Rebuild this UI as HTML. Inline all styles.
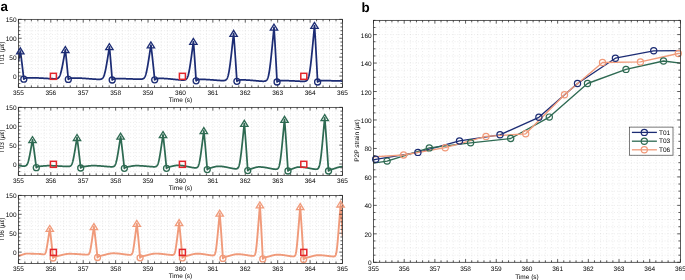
<!DOCTYPE html><html><head><meta charset="utf-8"><style>html,body{margin:0;padding:0;background:#fff;width:685px;height:280px;overflow:hidden}svg{display:block;will-change:transform;text-rendering:geometricPrecision;font-family:"Liberation Sans",sans-serif}</style></head><body>
<svg width="685" height="280" viewBox="0 0 685 280" >
<rect width="685" height="280" fill="#fff"/>
<text x="0.4" y="11.2" font-size="13.4" font-weight="bold" fill="#000">a</text>
<text x="361.6" y="11.9" font-size="13.4" font-weight="bold" fill="#000">b</text>
<path d="M24.88 19.36V87.36M31.36 19.36V87.36M37.85 19.36V87.36M44.33 19.36V87.36M50.81 19.36V87.36M57.29 19.36V87.36M63.77 19.36V87.36M70.26 19.36V87.36M76.74 19.36V87.36M83.22 19.36V87.36M89.7 19.36V87.36M96.18 19.36V87.36M102.67 19.36V87.36M109.15 19.36V87.36M115.63 19.36V87.36M122.11 19.36V87.36M128.59 19.36V87.36M135.08 19.36V87.36M141.56 19.36V87.36M148.04 19.36V87.36M154.52 19.36V87.36M161 19.36V87.36M167.49 19.36V87.36M173.97 19.36V87.36M180.45 19.36V87.36M186.93 19.36V87.36M193.41 19.36V87.36M199.9 19.36V87.36M206.38 19.36V87.36M212.86 19.36V87.36M219.34 19.36V87.36M225.82 19.36V87.36M232.31 19.36V87.36M238.79 19.36V87.36M245.27 19.36V87.36M251.75 19.36V87.36M258.23 19.36V87.36M264.72 19.36V87.36M271.2 19.36V87.36M277.68 19.36V87.36M284.16 19.36V87.36M290.64 19.36V87.36M297.13 19.36V87.36M303.61 19.36V87.36M310.09 19.36V87.36M316.57 19.36V87.36M323.05 19.36V87.36M329.54 19.36V87.36M336.02 19.36V87.36M18.4 83.58H342.5M18.4 79.8H342.5M18.4 76.03H342.5M18.4 72.25H342.5M18.4 68.47H342.5M18.4 64.69H342.5M18.4 60.92H342.5M18.4 57.14H342.5M18.4 53.36H342.5M18.4 49.58H342.5M18.4 45.8H342.5M18.4 42.03H342.5M18.4 38.25H342.5M18.4 34.47H342.5M18.4 30.69H342.5M18.4 26.92H342.5M18.4 23.14H342.5" stroke="#8a8a8a" stroke-width="0.5" stroke-dasharray="0.7 2.1" fill="none" opacity="0.45"/>
<path d="M24.88 107.36V175.36M31.36 107.36V175.36M37.85 107.36V175.36M44.33 107.36V175.36M50.81 107.36V175.36M57.29 107.36V175.36M63.77 107.36V175.36M70.26 107.36V175.36M76.74 107.36V175.36M83.22 107.36V175.36M89.7 107.36V175.36M96.18 107.36V175.36M102.67 107.36V175.36M109.15 107.36V175.36M115.63 107.36V175.36M122.11 107.36V175.36M128.59 107.36V175.36M135.08 107.36V175.36M141.56 107.36V175.36M148.04 107.36V175.36M154.52 107.36V175.36M161 107.36V175.36M167.49 107.36V175.36M173.97 107.36V175.36M180.45 107.36V175.36M186.93 107.36V175.36M193.41 107.36V175.36M199.9 107.36V175.36M206.38 107.36V175.36M212.86 107.36V175.36M219.34 107.36V175.36M225.82 107.36V175.36M232.31 107.36V175.36M238.79 107.36V175.36M245.27 107.36V175.36M251.75 107.36V175.36M258.23 107.36V175.36M264.72 107.36V175.36M271.2 107.36V175.36M277.68 107.36V175.36M284.16 107.36V175.36M290.64 107.36V175.36M297.13 107.36V175.36M303.61 107.36V175.36M310.09 107.36V175.36M316.57 107.36V175.36M323.05 107.36V175.36M329.54 107.36V175.36M336.02 107.36V175.36M18.4 171.58H342.5M18.4 167.8H342.5M18.4 164.03H342.5M18.4 160.25H342.5M18.4 156.47H342.5M18.4 152.69H342.5M18.4 148.92H342.5M18.4 145.14H342.5M18.4 141.36H342.5M18.4 137.58H342.5M18.4 133.8H342.5M18.4 130.03H342.5M18.4 126.25H342.5M18.4 122.47H342.5M18.4 118.69H342.5M18.4 114.92H342.5M18.4 111.14H342.5" stroke="#8a8a8a" stroke-width="0.5" stroke-dasharray="0.7 2.1" fill="none" opacity="0.45"/>
<path d="M24.88 195.4V263.45M31.36 195.4V263.45M37.85 195.4V263.45M44.33 195.4V263.45M50.81 195.4V263.45M57.29 195.4V263.45M63.77 195.4V263.45M70.26 195.4V263.45M76.74 195.4V263.45M83.22 195.4V263.45M89.7 195.4V263.45M96.18 195.4V263.45M102.67 195.4V263.45M109.15 195.4V263.45M115.63 195.4V263.45M122.11 195.4V263.45M128.59 195.4V263.45M135.08 195.4V263.45M141.56 195.4V263.45M148.04 195.4V263.45M154.52 195.4V263.45M161 195.4V263.45M167.49 195.4V263.45M173.97 195.4V263.45M180.45 195.4V263.45M186.93 195.4V263.45M193.41 195.4V263.45M199.9 195.4V263.45M206.38 195.4V263.45M212.86 195.4V263.45M219.34 195.4V263.45M225.82 195.4V263.45M232.31 195.4V263.45M238.79 195.4V263.45M245.27 195.4V263.45M251.75 195.4V263.45M258.23 195.4V263.45M264.72 195.4V263.45M271.2 195.4V263.45M277.68 195.4V263.45M284.16 195.4V263.45M290.64 195.4V263.45M297.13 195.4V263.45M303.61 195.4V263.45M310.09 195.4V263.45M316.57 195.4V263.45M323.05 195.4V263.45M329.54 195.4V263.45M336.02 195.4V263.45M18.4 259.67H342.5M18.4 255.89H342.5M18.4 252.11H342.5M18.4 248.33H342.5M18.4 244.55H342.5M18.4 240.77H342.5M18.4 236.99H342.5M18.4 233.21H342.5M18.4 229.43H342.5M18.4 225.64H342.5M18.4 221.86H342.5M18.4 218.08H342.5M18.4 214.3H342.5M18.4 210.52H342.5M18.4 206.74H342.5M18.4 202.96H342.5M18.4 199.18H342.5" stroke="#8a8a8a" stroke-width="0.5" stroke-dasharray="0.7 2.1" fill="none" opacity="0.45"/>
<clipPath id="cp0"><rect x="18.4" y="9.36" width="324.1" height="78"/></clipPath>
<path d="M18.4 61.19 L18.6 60.15 L18.8 59.09 L19 58.03 L19.1 57.5 L19.2 56.96 L19.4 55.89 L19.6 54.81 L19.7 54.26 L19.8 53.72 L20 52.64 L20.2 51.55 L20.3 51 L20.4 51.56 L20.6 52.89 L20.8 54.31 L21 55.79 L21.2 57.32 L21.4 58.88 L21.6 60.47 L21.8 62.08 L22 63.72 L22.2 65.38 L22.4 67.05 L22.6 68.74 L22.8 70.44 L23 72.16 L23.2 73.89 L23.4 75.63 L23.6 77.39 L23.8 79.15 L24 78.95 L24.2 78.78 L24.4 78.64 L24.6 78.53 L24.8 78.43 L25 78.35 L25.2 78.28 L25.4 78.21 L25.6 78.16 L25.8 78.11 L26 78.07 L26.2 78.03 L26.4 77.99 L26.6 77.96 L26.8 77.93 L27 77.91 L27.2 77.88 L27.4 77.86 L27.6 77.84 L27.8 77.82 L28 77.8 L28.2 77.79 L28.4 77.78 L28.6 77.77 L28.8 77.76 L29 77.76 L29.2 77.76 L29.4 77.75 L29.6 77.75 L29.8 77.75 L30 77.75 L30.2 77.75 L30.4 77.76 L30.6 77.76 L30.8 77.76 L31 77.76 L31.2 77.76 L31.4 77.76 L31.6 77.77 L31.8 77.77 L32 77.77 L32.2 77.78 L32.4 77.78 L32.6 77.78 L32.8 77.79 L33 77.79 L33.2 77.79 L33.4 77.8 L33.6 77.8 L33.8 77.81 L34 77.81 L34.2 77.82 L34.4 77.83 L34.6 77.83 L34.8 77.84 L35 77.84 L35.2 77.85 L35.4 77.86 L35.6 77.86 L35.8 77.87 L36 77.88 L36.2 77.89 L36.4 77.89 L36.6 77.9 L36.8 77.91 L37 77.92 L37.2 77.93 L37.4 77.93 L37.6 77.94 L37.8 77.95 L38 77.96 L38.2 77.97 L38.4 77.98 L38.6 77.99 L38.8 78 L39 78.01 L39.2 78.02 L39.4 78.03 L39.6 78.04 L39.8 78.05 L40 78.06 L40.2 78.07 L40.4 78.08 L40.6 78.09 L40.8 78.1 L41 78.11 L41.2 78.12 L41.4 78.13 L41.6 78.14 L41.8 78.15 L42 78.16 L42.2 78.18 L42.4 78.19 L42.6 78.2 L42.8 78.21 L43 78.22 L43.2 78.23 L43.4 78.24 L43.6 78.26 L43.8 78.27 L44 78.28 L44.2 78.29 L44.4 78.3 L44.6 78.31 L44.8 78.33 L45 78.34 L45.2 78.35 L45.4 78.36 L45.6 78.37 L45.8 78.38 L46 78.4 L46.2 78.41 L46.4 78.42 L46.6 78.43 L46.8 78.44 L47 78.45 L47.2 78.46 L47.4 78.48 L47.6 78.49 L47.8 78.5 L48 78.51 L48.2 78.52 L48.4 78.53 L48.6 78.54 L48.8 78.55 L49 78.56 L49.2 78.57 L49.4 78.58 L49.6 78.59 L49.8 78.6 L50 78.61 L50.2 78.62 L50.4 78.63 L50.6 78.64 L50.8 78.65 L51 78.66 L51.2 78.67 L51.4 78.68 L51.6 78.69 L51.8 78.7 L52 78.71 L52.2 78.71 L52.4 78.72 L52.6 78.73 L52.8 78.74 L53 78.74 L53.2 78.75 L53.4 78.75 L53.6 78.76 L53.8 78.76 L54 78.77 L54.2 78.77 L54.4 78.77 L54.6 78.77 L54.8 78.77 L55 78.77 L55.2 78.76 L55.4 78.76 L55.6 78.75 L55.8 78.74 L56 78.72 L56.2 78.7 L56.4 78.67 L56.6 78.64 L56.8 78.6 L57 78.56 L57.2 78.5 L57.4 78.43 L57.6 78.35 L57.8 78.26 L58 78.14 L58.2 78 L58.4 77.84 L58.6 77.66 L58.8 77.44 L59 77.19 L59.2 76.9 L59.4 76.56 L59.6 76.19 L59.8 75.76 L60 75.28 L60.2 74.76 L60.4 74.18 L60.6 73.54 L60.8 72.86 L61 72.12 L61.2 71.34 L61.4 70.51 L61.6 69.64 L61.8 68.74 L62 67.79 L62.2 66.82 L62.4 65.82 L62.6 64.8 L62.8 63.76 L63 62.7 L63.2 61.62 L63.4 60.53 L63.6 59.43 L63.8 58.32 L64 57.2 L64.1 56.64 L64.2 56.07 L64.4 54.94 L64.6 53.81 L64.7 53.24 L64.8 52.66 L65 51.52 L65.2 50.37 L65.3 49.8 L65.4 50.5 L65.6 52.15 L65.8 53.92 L66 55.77 L66.2 57.67 L66.4 59.62 L66.6 61.6 L66.8 63.61 L67 65.65 L67.2 67.71 L67.4 69.79 L67.6 71.9 L67.8 74.02 L68 76.16 L68.2 78.32 L68.3 79.4 L68.4 79.3 L68.6 79.11 L68.8 78.96 L69 78.83 L69.2 78.73 L69.4 78.64 L69.6 78.56 L69.8 78.49 L70 78.43 L70.2 78.38 L70.4 78.34 L70.6 78.3 L70.8 78.26 L71 78.22 L71.2 78.19 L71.4 78.17 L71.6 78.14 L71.8 78.12 L72 78.1 L72.2 78.08 L72.4 78.06 L72.6 78.05 L72.8 78.03 L73 78.02 L73.2 78.01 L73.4 78.01 L73.6 78.01 L73.8 78 L74 78 L74.2 78 L74.4 78 L74.6 78.01 L74.8 78.01 L75 78.01 L75.2 78.01 L75.4 78.01 L75.6 78.01 L75.8 78.02 L76 78.02 L76.2 78.02 L76.4 78.03 L76.6 78.03 L76.8 78.04 L77 78.04 L77.2 78.05 L77.4 78.05 L77.6 78.06 L77.8 78.06 L78 78.07 L78.2 78.08 L78.4 78.08 L78.6 78.09 L78.8 78.1 L79 78.11 L79.2 78.12 L79.4 78.12 L79.6 78.13 L79.8 78.14 L80 78.15 L80.2 78.16 L80.4 78.17 L80.6 78.18 L80.8 78.19 L81 78.2 L81.2 78.21 L81.4 78.22 L81.6 78.23 L81.8 78.24 L82 78.25 L82.2 78.27 L82.4 78.28 L82.6 78.29 L82.8 78.3 L83 78.31 L83.2 78.33 L83.4 78.34 L83.6 78.35 L83.8 78.37 L84 78.38 L84.2 78.39 L84.4 78.41 L84.6 78.42 L84.8 78.43 L85 78.45 L85.2 78.46 L85.4 78.48 L85.6 78.49 L85.8 78.5 L86 78.52 L86.2 78.53 L86.4 78.55 L86.6 78.56 L86.8 78.58 L87 78.59 L87.2 78.61 L87.4 78.62 L87.6 78.64 L87.8 78.65 L88 78.67 L88.2 78.68 L88.4 78.7 L88.6 78.71 L88.8 78.73 L89 78.75 L89.2 78.76 L89.4 78.78 L89.6 78.79 L89.8 78.81 L90 78.82 L90.2 78.84 L90.4 78.85 L90.6 78.87 L90.8 78.88 L91 78.9 L91.2 78.91 L91.4 78.93 L91.6 78.94 L91.8 78.96 L92 78.97 L92.2 78.99 L92.4 79 L92.6 79.02 L92.8 79.03 L93 79.04 L93.2 79.06 L93.4 79.07 L93.6 79.09 L93.8 79.1 L94 79.11 L94.2 79.13 L94.4 79.14 L94.6 79.15 L94.8 79.17 L95 79.18 L95.2 79.19 L95.4 79.2 L95.6 79.21 L95.8 79.22 L96 79.24 L96.2 79.25 L96.4 79.26 L96.6 79.27 L96.8 79.28 L97 79.29 L97.2 79.3 L97.4 79.3 L97.6 79.31 L97.8 79.32 L98 79.32 L98.2 79.33 L98.4 79.33 L98.6 79.33 L98.8 79.34 L99 79.34 L99.2 79.33 L99.4 79.33 L99.6 79.32 L99.8 79.31 L100 79.3 L100.2 79.28 L100.4 79.25 L100.6 79.22 L100.8 79.18 L101 79.14 L101.2 79.08 L101.4 79.01 L101.6 78.93 L101.8 78.83 L102 78.71 L102.2 78.57 L102.4 78.41 L102.6 78.21 L102.8 77.99 L103 77.73 L103.2 77.42 L103.4 77.07 L103.6 76.68 L103.8 76.23 L104 75.72 L104.2 75.16 L104.4 74.54 L104.6 73.86 L104.8 73.12 L105 72.33 L105.2 71.48 L105.4 70.57 L105.6 69.62 L105.8 68.63 L106 67.59 L106.2 66.52 L106.4 65.41 L106.6 64.28 L106.8 63.12 L107 61.94 L107.2 60.75 L107.4 59.53 L107.6 58.3 L107.8 57.07 L107.9 56.44 L108 55.82 L108.2 54.56 L108.4 53.29 L108.5 52.66 L108.6 52.02 L108.8 50.75 L109 49.47 L109.1 48.83 L109.2 48.19 L109.4 46.9 L109.6 48.72 L109.8 50.79 L110 52.98 L110.2 55.24 L110.4 57.56 L110.6 59.93 L110.8 62.34 L111 64.78 L111.2 67.26 L111.4 69.76 L111.6 72.29 L111.8 74.84 L112 77.41 L112.2 80 L112.4 79.8 L112.6 79.63 L112.8 79.49 L113 79.38 L113.2 79.28 L113.4 79.19 L113.6 79.12 L113.8 79.05 L114 79 L114.2 78.95 L114.4 78.9 L114.6 78.86 L114.8 78.82 L115 78.79 L115.2 78.76 L115.4 78.73 L115.6 78.71 L115.8 78.69 L116 78.67 L116.2 78.65 L116.4 78.64 L116.6 78.63 L116.8 78.62 L117 78.61 L117.2 78.61 L117.4 78.61 L117.6 78.61 L117.8 78.6 L118 78.6 L118.2 78.6 L118.4 78.6 L118.6 78.61 L118.8 78.61 L119 78.61 L119.2 78.61 L119.4 78.61 L119.6 78.61 L119.8 78.61 L120 78.62 L120.2 78.62 L120.4 78.62 L120.6 78.62 L120.8 78.63 L121 78.63 L121.2 78.63 L121.4 78.64 L121.6 78.64 L121.8 78.64 L122 78.65 L122.2 78.65 L122.4 78.65 L122.6 78.66 L122.8 78.66 L123 78.67 L123.2 78.67 L123.4 78.68 L123.6 78.68 L123.8 78.69 L124 78.69 L124.2 78.7 L124.4 78.7 L124.6 78.71 L124.8 78.71 L125 78.72 L125.2 78.72 L125.4 78.73 L125.6 78.74 L125.8 78.74 L126 78.75 L126.2 78.76 L126.4 78.76 L126.6 78.77 L126.8 78.77 L127 78.78 L127.2 78.79 L127.4 78.8 L127.6 78.8 L127.8 78.81 L128 78.82 L128.2 78.82 L128.4 78.83 L128.6 78.84 L128.8 78.85 L129 78.85 L129.2 78.86 L129.4 78.87 L129.6 78.87 L129.8 78.88 L130 78.89 L130.2 78.9 L130.4 78.9 L130.6 78.91 L130.8 78.92 L131 78.93 L131.2 78.94 L131.4 78.94 L131.6 78.95 L131.8 78.96 L132 78.97 L132.2 78.97 L132.4 78.98 L132.6 78.99 L132.8 79 L133 79 L133.2 79.01 L133.4 79.02 L133.6 79.03 L133.8 79.03 L134 79.04 L134.2 79.05 L134.4 79.06 L134.6 79.06 L134.8 79.07 L135 79.08 L135.2 79.09 L135.4 79.09 L135.6 79.1 L135.8 79.11 L136 79.11 L136.2 79.12 L136.4 79.13 L136.6 79.13 L136.8 79.14 L137 79.14 L137.2 79.15 L137.4 79.16 L137.6 79.16 L137.8 79.17 L138 79.17 L138.2 79.18 L138.4 79.18 L138.6 79.18 L138.8 79.19 L139 79.19 L139.2 79.19 L139.4 79.19 L139.6 79.2 L139.8 79.2 L140 79.19 L140.2 79.19 L140.4 79.19 L140.6 79.18 L140.8 79.17 L141 79.16 L141.2 79.15 L141.4 79.13 L141.6 79.11 L141.8 79.09 L142 79.05 L142.2 79.02 L142.4 78.97 L142.6 78.91 L142.8 78.84 L143 78.76 L143.2 78.67 L143.4 78.55 L143.6 78.41 L143.8 78.25 L144 78.06 L144.2 77.84 L144.4 77.59 L144.6 77.29 L144.8 76.95 L145 76.55 L145.2 76.11 L145.4 75.61 L145.6 75.05 L145.8 74.43 L146 73.75 L146.2 73 L146.4 72.2 L146.6 71.33 L146.8 70.41 L147 69.44 L147.2 68.42 L147.4 67.35 L147.6 66.25 L147.8 65.11 L148 63.93 L148.2 62.73 L148.4 61.5 L148.6 60.26 L148.8 58.99 L149 57.71 L149.2 56.42 L149.4 55.11 L149.6 53.8 L149.7 53.13 L149.8 52.47 L150 51.14 L150.2 49.81 L150.3 49.14 L150.4 48.47 L150.6 47.12 L150.8 45.77 L150.9 45.1 L151 45.73 L151.2 47.23 L151.4 48.83 L151.6 50.5 L151.8 52.22 L152 53.97 L152.2 55.76 L152.4 57.58 L152.6 59.42 L152.8 61.29 L153 63.17 L153.2 65.07 L153.4 66.99 L153.6 68.93 L153.8 70.88 L154 72.84 L154.2 74.81 L154.4 76.8 L154.6 78.8 L154.7 79.8 L154.8 79.7 L155 79.51 L155.2 79.36 L155.4 79.23 L155.6 79.12 L155.8 79.03 L156 78.95 L156.2 78.88 L156.4 78.82 L156.6 78.77 L156.8 78.72 L157 78.68 L157.2 78.64 L157.4 78.61 L157.6 78.58 L157.8 78.55 L158 78.52 L158.2 78.5 L158.4 78.48 L158.6 78.46 L158.8 78.44 L159 78.43 L159.2 78.42 L159.4 78.41 L159.6 78.41 L159.8 78.41 L160 78.41 L160.2 78.41 L160.4 78.41 L160.6 78.41 L160.8 78.41 L161 78.41 L161.2 78.41 L161.4 78.42 L161.6 78.42 L161.8 78.42 L162 78.43 L162.2 78.43 L162.4 78.44 L162.6 78.45 L162.8 78.45 L163 78.46 L163.2 78.47 L163.4 78.47 L163.6 78.48 L163.8 78.49 L164 78.5 L164.2 78.51 L164.4 78.52 L164.6 78.53 L164.8 78.54 L165 78.55 L165.2 78.56 L165.4 78.58 L165.6 78.59 L165.8 78.6 L166 78.61 L166.2 78.63 L166.4 78.64 L166.6 78.66 L166.8 78.67 L167 78.68 L167.2 78.7 L167.4 78.71 L167.6 78.73 L167.8 78.75 L168 78.76 L168.2 78.78 L168.4 78.8 L168.6 78.81 L168.8 78.83 L169 78.85 L169.2 78.87 L169.4 78.88 L169.6 78.9 L169.8 78.92 L170 78.94 L170.2 78.96 L170.4 78.98 L170.6 79 L170.8 79.02 L171 79.04 L171.2 79.06 L171.4 79.08 L171.6 79.1 L171.8 79.12 L172 79.14 L172.2 79.16 L172.4 79.18 L172.6 79.2 L172.8 79.22 L173 79.24 L173.2 79.26 L173.4 79.28 L173.6 79.3 L173.8 79.32 L174 79.34 L174.2 79.36 L174.4 79.38 L174.6 79.4 L174.8 79.43 L175 79.45 L175.2 79.47 L175.4 79.49 L175.6 79.51 L175.8 79.53 L176 79.55 L176.2 79.57 L176.4 79.59 L176.6 79.61 L176.8 79.63 L177 79.65 L177.2 79.67 L177.4 79.69 L177.6 79.71 L177.8 79.73 L178 79.75 L178.2 79.77 L178.4 79.78 L178.6 79.8 L178.8 79.82 L179 79.84 L179.2 79.86 L179.4 79.87 L179.6 79.89 L179.8 79.9 L180 79.92 L180.2 79.94 L180.4 79.95 L180.6 79.97 L180.8 79.98 L181 79.99 L181.2 80.01 L181.4 80.02 L181.6 80.03 L181.8 80.04 L182 80.05 L182.2 80.06 L182.4 80.07 L182.6 80.07 L182.8 80.07 L183 80.08 L183.2 80.07 L183.4 80.07 L183.6 80.06 L183.8 80.05 L184 80.04 L184.2 80.02 L184.4 79.99 L184.6 79.95 L184.8 79.91 L185 79.86 L185.2 79.79 L185.4 79.71 L185.6 79.61 L185.8 79.5 L186 79.36 L186.2 79.19 L186.4 79 L186.6 78.77 L186.8 78.5 L187 78.19 L187.2 77.83 L187.4 77.42 L187.6 76.95 L187.8 76.41 L188 75.82 L188.2 75.15 L188.4 74.41 L188.6 73.6 L188.8 72.73 L189 71.78 L189.2 70.77 L189.4 69.7 L189.6 68.57 L189.8 67.39 L190 66.16 L190.2 64.89 L190.4 63.58 L190.6 62.23 L190.8 60.86 L191 59.46 L191.2 58.04 L191.4 56.6 L191.6 55.14 L191.8 53.67 L191.9 52.93 L192 52.18 L192.2 50.69 L192.4 49.19 L192.5 48.44 L192.6 47.68 L192.8 46.17 L193 44.65 L193.1 43.89 L193.2 43.13 L193.4 41.6 L193.6 43.84 L193.8 46.4 L194 49.09 L194.2 51.88 L194.4 54.75 L194.6 57.67 L194.8 60.63 L195 63.65 L195.2 66.69 L195.4 69.78 L195.6 72.89 L195.8 76.04 L196 79.21 L196.1 80.8 L196.2 80.7 L196.4 80.51 L196.6 80.36 L196.8 80.23 L197 80.12 L197.2 80.03 L197.4 79.95 L197.6 79.88 L197.8 79.82 L198 79.77 L198.2 79.72 L198.4 79.67 L198.6 79.63 L198.8 79.6 L199 79.57 L199.2 79.54 L199.4 79.51 L199.6 79.49 L199.8 79.47 L200 79.45 L200.2 79.44 L200.4 79.43 L200.6 79.42 L200.8 79.41 L201 79.41 L201.2 79.41 L201.4 79.41 L201.6 79.41 L201.8 79.41 L202 79.41 L202.2 79.41 L202.4 79.41 L202.6 79.41 L202.8 79.42 L203 79.42 L203.2 79.42 L203.4 79.43 L203.6 79.43 L203.8 79.44 L204 79.44 L204.2 79.45 L204.4 79.45 L204.6 79.46 L204.8 79.47 L205 79.47 L205.2 79.48 L205.4 79.49 L205.6 79.49 L205.8 79.5 L206 79.51 L206.2 79.52 L206.4 79.53 L206.6 79.54 L206.8 79.55 L207 79.56 L207.2 79.57 L207.4 79.58 L207.6 79.59 L207.8 79.6 L208 79.61 L208.2 79.62 L208.4 79.64 L208.6 79.65 L208.8 79.66 L209 79.67 L209.2 79.68 L209.4 79.7 L209.6 79.71 L209.8 79.72 L210 79.74 L210.2 79.75 L210.4 79.77 L210.6 79.78 L210.8 79.79 L211 79.81 L211.2 79.82 L211.4 79.84 L211.6 79.85 L211.8 79.87 L212 79.88 L212.2 79.9 L212.4 79.91 L212.6 79.93 L212.8 79.94 L213 79.96 L213.2 79.97 L213.4 79.99 L213.6 80.01 L213.8 80.02 L214 80.04 L214.2 80.05 L214.4 80.07 L214.6 80.09 L214.8 80.1 L215 80.12 L215.2 80.13 L215.4 80.15 L215.6 80.16 L215.8 80.18 L216 80.2 L216.2 80.21 L216.4 80.23 L216.6 80.24 L216.8 80.26 L217 80.27 L217.2 80.29 L217.4 80.3 L217.6 80.32 L217.8 80.34 L218 80.35 L218.2 80.36 L218.4 80.38 L218.6 80.39 L218.8 80.41 L219 80.42 L219.2 80.44 L219.4 80.45 L219.6 80.46 L219.8 80.47 L220 80.49 L220.2 80.5 L220.4 80.51 L220.6 80.52 L220.8 80.53 L221 80.54 L221.2 80.55 L221.4 80.56 L221.6 80.57 L221.8 80.58 L222 80.59 L222.2 80.59 L222.4 80.6 L222.6 80.6 L222.8 80.6 L223 80.6 L223.2 80.6 L223.4 80.59 L223.6 80.58 L223.8 80.57 L224 80.55 L224.2 80.53 L224.4 80.5 L224.6 80.46 L224.8 80.41 L225 80.36 L225.2 80.29 L225.4 80.2 L225.6 80.1 L225.8 79.98 L226 79.84 L226.2 79.66 L226.4 79.46 L226.6 79.22 L226.8 78.94 L227 78.61 L227.2 78.23 L227.4 77.79 L227.6 77.28 L227.8 76.7 L228 76.05 L228.2 75.32 L228.4 74.5 L228.6 73.6 L228.8 72.62 L229 71.55 L229.2 70.39 L229.4 69.16 L229.6 67.85 L229.8 66.47 L230 65.02 L230.2 63.52 L230.4 61.96 L230.6 60.36 L230.8 58.72 L231 57.04 L231.2 55.33 L231.4 53.59 L231.6 51.83 L231.8 50.05 L232 48.25 L232.1 47.34 L232.2 46.44 L232.4 44.61 L232.6 42.78 L232.7 41.86 L232.8 40.93 L233 39.08 L233.2 37.23 L233.3 36.3 L233.4 35.37 L233.6 33.5 L233.8 35.69 L234 38.19 L234.2 40.83 L234.4 43.56 L234.6 46.35 L234.8 49.21 L235 52.11 L235.2 55.06 L235.4 58.04 L235.6 61.05 L235.8 64.1 L236 67.17 L236.2 70.27 L236.4 73.4 L236.6 76.54 L236.8 79.71 L236.9 81.3 L237 81.2 L237.2 81.01 L237.4 80.86 L237.6 80.73 L237.8 80.62 L238 80.53 L238.2 80.45 L238.4 80.38 L238.6 80.32 L238.8 80.26 L239 80.21 L239.2 80.17 L239.4 80.13 L239.6 80.1 L239.8 80.06 L240 80.03 L240.2 80.01 L240.4 79.99 L240.6 79.97 L240.8 79.95 L241 79.93 L241.2 79.92 L241.4 79.92 L241.6 79.91 L241.8 79.91 L242 79.91 L242.2 79.91 L242.4 79.91 L242.6 79.91 L242.8 79.91 L243 79.91 L243.2 79.91 L243.4 79.92 L243.6 79.92 L243.8 79.92 L244 79.93 L244.2 79.93 L244.4 79.94 L244.6 79.94 L244.8 79.95 L245 79.96 L245.2 79.96 L245.4 79.97 L245.6 79.98 L245.8 79.99 L246 80 L246.2 80 L246.4 80.01 L246.6 80.02 L246.8 80.03 L247 80.04 L247.2 80.05 L247.4 80.07 L247.6 80.08 L247.8 80.09 L248 80.1 L248.2 80.11 L248.4 80.13 L248.6 80.14 L248.8 80.15 L249 80.17 L249.2 80.18 L249.4 80.19 L249.6 80.21 L249.8 80.22 L250 80.24 L250.2 80.25 L250.4 80.27 L250.6 80.28 L250.8 80.3 L251 80.32 L251.2 80.33 L251.4 80.35 L251.6 80.36 L251.8 80.38 L252 80.4 L252.2 80.42 L252.4 80.43 L252.6 80.45 L252.8 80.47 L253 80.49 L253.2 80.5 L253.4 80.52 L253.6 80.54 L253.8 80.56 L254 80.58 L254.2 80.59 L254.4 80.61 L254.6 80.63 L254.8 80.65 L255 80.67 L255.2 80.69 L255.4 80.7 L255.6 80.72 L255.8 80.74 L256 80.76 L256.2 80.78 L256.4 80.8 L256.6 80.81 L256.8 80.83 L257 80.85 L257.2 80.87 L257.4 80.89 L257.6 80.9 L257.8 80.92 L258 80.94 L258.2 80.96 L258.4 80.97 L258.6 80.99 L258.8 81.01 L259 81.03 L259.2 81.04 L259.4 81.06 L259.6 81.08 L259.8 81.09 L260 81.1 L260.2 81.12 L260.4 81.13 L260.6 81.15 L260.8 81.16 L261 81.18 L261.2 81.19 L261.4 81.2 L261.6 81.21 L261.8 81.22 L262 81.23 L262.2 81.24 L262.4 81.25 L262.6 81.26 L262.8 81.26 L263 81.27 L263.2 81.27 L263.4 81.27 L263.6 81.26 L263.8 81.26 L264 81.25 L264.2 81.23 L264.4 81.21 L264.6 81.18 L264.8 81.15 L265 81.11 L265.2 81.06 L265.4 80.99 L265.6 80.91 L265.8 80.82 L266 80.7 L266.2 80.56 L266.4 80.4 L266.6 80.2 L266.8 79.97 L267 79.69 L267.2 79.37 L267.4 78.99 L267.6 78.56 L267.8 78.05 L268 77.47 L268.2 76.82 L268.4 76.07 L268.6 75.23 L268.8 74.3 L269 73.27 L269.2 72.14 L269.4 70.92 L269.6 69.59 L269.8 68.18 L270 66.69 L270.2 65.11 L270.4 63.46 L270.6 61.74 L270.8 59.96 L271 58.12 L271.2 56.24 L271.4 54.32 L271.6 52.37 L271.8 50.38 L272 48.36 L272.2 46.33 L272.4 44.27 L272.5 43.23 L272.6 42.2 L272.8 40.11 L273 38.01 L273.1 36.96 L273.2 35.9 L273.4 33.79 L273.6 31.66 L273.7 30.6 L273.8 29.53 L274 27.4 L274.2 30.13 L274.4 33.24 L274.6 36.53 L274.8 39.93 L275 43.41 L275.2 46.97 L275.4 50.58 L275.6 54.25 L275.8 57.97 L276 61.72 L276.2 65.52 L276.4 69.35 L276.6 73.21 L276.8 77.1 L277 81.02 L277.05 82 L277.2 81.85 L277.4 81.67 L277.6 81.53 L277.8 81.4 L278 81.3 L278.2 81.21 L278.4 81.13 L278.6 81.06 L278.8 81.01 L279 80.95 L279.2 80.91 L279.4 80.86 L279.6 80.82 L279.8 80.79 L280 80.76 L280.2 80.73 L280.4 80.7 L280.6 80.68 L280.8 80.66 L281 80.65 L281.2 80.63 L281.4 80.62 L281.6 80.61 L281.8 80.61 L282 80.61 L282.2 80.61 L282.4 80.61 L282.6 80.61 L282.8 80.61 L283 80.61 L283.2 80.61 L283.4 80.61 L283.6 80.61 L283.8 80.61 L284 80.61 L284.2 80.62 L284.4 80.62 L284.6 80.62 L284.8 80.62 L285 80.63 L285.2 80.63 L285.4 80.63 L285.6 80.64 L285.8 80.64 L286 80.65 L286.2 80.65 L286.4 80.66 L286.6 80.66 L286.8 80.67 L287 80.67 L287.2 80.68 L287.4 80.68 L287.6 80.69 L287.8 80.7 L288 80.7 L288.2 80.71 L288.4 80.72 L288.6 80.72 L288.8 80.73 L289 80.74 L289.2 80.75 L289.4 80.75 L289.6 80.76 L289.8 80.77 L290 80.78 L290.2 80.79 L290.4 80.79 L290.6 80.8 L290.8 80.81 L291 80.82 L291.2 80.83 L291.4 80.84 L291.6 80.85 L291.8 80.86 L292 80.87 L292.2 80.87 L292.4 80.88 L292.6 80.89 L292.8 80.9 L293 80.91 L293.2 80.92 L293.4 80.93 L293.6 80.94 L293.8 80.95 L294 80.96 L294.2 80.97 L294.4 80.98 L294.6 80.99 L294.8 81 L295 81.01 L295.2 81.02 L295.4 81.03 L295.6 81.04 L295.8 81.05 L296 81.06 L296.2 81.08 L296.4 81.09 L296.6 81.1 L296.8 81.11 L297 81.12 L297.2 81.13 L297.4 81.14 L297.6 81.15 L297.8 81.16 L298 81.17 L298.2 81.18 L298.4 81.19 L298.6 81.2 L298.8 81.21 L299 81.21 L299.2 81.22 L299.4 81.23 L299.6 81.24 L299.8 81.25 L300 81.26 L300.2 81.27 L300.4 81.28 L300.6 81.28 L300.8 81.29 L301 81.3 L301.2 81.31 L301.4 81.31 L301.6 81.32 L301.8 81.33 L302 81.33 L302.2 81.34 L302.4 81.34 L302.6 81.34 L302.8 81.35 L303 81.35 L303.2 81.35 L303.4 81.35 L303.6 81.34 L303.8 81.34 L304 81.33 L304.2 81.32 L304.4 81.31 L304.6 81.29 L304.8 81.27 L305 81.24 L305.2 81.2 L305.4 81.16 L305.6 81.11 L305.8 81.04 L306 80.97 L306.2 80.87 L306.4 80.76 L306.6 80.63 L306.8 80.47 L307 80.28 L307.2 80.06 L307.4 79.79 L307.6 79.48 L307.8 79.12 L308 78.7 L308.2 78.21 L308.4 77.65 L308.6 77.01 L308.8 76.29 L309 75.47 L309.2 74.55 L309.4 73.54 L309.6 72.43 L309.8 71.21 L310 69.89 L310.2 68.48 L310.4 66.98 L310.6 65.39 L310.8 63.72 L311 61.97 L311.2 60.17 L311.4 58.3 L311.6 56.38 L311.8 54.42 L312 52.41 L312.2 50.37 L312.4 48.3 L312.6 46.21 L312.8 44.1 L313 41.96 L313.2 39.81 L313.3 38.73 L313.4 37.65 L313.6 35.48 L313.8 33.29 L313.9 32.2 L314 31.1 L314.2 28.91 L314.4 26.7 L314.5 25.6 L314.6 26.89 L314.8 29.92 L315 33.18 L315.2 36.57 L315.4 40.07 L315.6 43.64 L315.8 47.28 L316 50.98 L316.2 54.73 L316.4 58.52 L316.6 62.35 L316.8 66.21 L317 70.12 L317.2 74.05 L317.4 78.01 L317.6 82 L317.8 81.8 L318 81.63 L318.2 81.5 L318.4 81.38 L318.6 81.28 L318.8 81.2 L319 81.13 L319.2 81.07 L319.4 81.02 L319.6 80.97 L319.8 80.93 L320 80.9 L320.2 80.86 L320.4 80.83 L320.6 80.8 L320.8 80.78 L321 80.76 L321.2 80.73 L321.4 80.71 L321.6 80.7 L321.8 80.68 L322 80.66 L322.2 80.65 L322.4 80.64 L322.6 80.63 L322.8 80.62 L323 80.61 L323.2 80.61 L323.4 80.6 L323.6 80.6 L323.8 80.6 L324 80.6 L324.2 80.6 L324.4 80.6 L324.6 80.6 L324.8 80.6 L325 80.61 L325.2 80.61 L325.4 80.61 L325.6 80.61 L325.8 80.61 L326 80.62 L326.2 80.62 L326.4 80.62 L326.6 80.62 L326.8 80.63 L327 80.63 L327.2 80.63 L327.4 80.64 L327.6 80.64 L327.8 80.65 L328 80.65 L328.2 80.66 L328.4 80.66 L328.6 80.67 L328.8 80.67 L329 80.68 L329.2 80.68 L329.4 80.69 L329.6 80.69 L329.8 80.7 L330 80.7 L330.2 80.71 L330.4 80.71 L330.6 80.72 L330.8 80.73 L331 80.73 L331.2 80.74 L331.4 80.75 L331.6 80.75 L331.8 80.76 L332 80.77 L332.2 80.77 L332.4 80.78 L332.6 80.79 L332.8 80.79 L333 80.8 L333.2 80.8 L333.4 80.81 L333.6 80.82 L333.8 80.82 L334 80.83 L334.2 80.84 L334.4 80.84 L334.6 80.85 L334.8 80.86 L335 80.86 L335.2 80.87 L335.4 80.88 L335.6 80.88 L335.8 80.89 L336 80.89 L336.2 80.9 L336.4 80.91 L336.6 80.91 L336.8 80.92 L337 80.92 L337.2 80.93 L337.4 80.93 L337.6 80.94 L337.8 80.94 L338 80.95 L338.2 80.95 L338.4 80.96 L338.6 80.96 L338.8 80.96 L339 80.97 L339.2 80.97 L339.4 80.97 L339.6 80.98 L339.8 80.98 L340 80.98 L340.2 80.99 L340.4 80.99 L340.6 80.99 L340.8 80.99 L341 80.99 L341.2 81 L341.4 81 L341.6 81 L341.8 81 L342 81 L342.2 81 L342.4 81" stroke="#1c2c74" stroke-width="1.75" fill="none" stroke-linejoin="round" stroke-linecap="round" clip-path="url(#cp0)"/>
<clipPath id="cp1"><rect x="18.4" y="97.36" width="324.1" height="78"/></clipPath>
<path d="M18.4 165.6 L18.6 165.6 L18.8 165.61 L19 165.62 L19.2 165.63 L19.4 165.65 L19.6 165.66 L19.8 165.69 L20 165.71 L20.2 165.74 L20.4 165.77 L20.6 165.8 L20.8 165.83 L21 165.86 L21.2 165.9 L21.4 165.93 L21.6 165.96 L21.8 165.99 L22 166.02 L22.2 166.05 L22.4 166.08 L22.6 166.1 L22.8 166.12 L23 166.13 L23.2 166.14 L23.4 166.15 L23.6 166.15 L23.8 166.14 L24 166.13 L24.2 166.12 L24.4 166.1 L24.6 166.07 L24.8 166.04 L25 166 L25.2 165.95 L25.4 165.9 L25.6 165.82 L25.8 165.73 L26 165.62 L26.2 165.49 L26.4 165.33 L26.6 165.13 L26.8 164.89 L27 164.61 L27.2 164.28 L27.4 163.9 L27.6 163.45 L27.8 162.94 L28 162.37 L28.2 161.74 L28.4 161.05 L28.6 160.29 L28.8 159.48 L29 158.63 L29.2 157.72 L29.4 156.78 L29.6 155.8 L29.8 154.8 L30 153.76 L30.2 152.71 L30.4 151.64 L30.6 150.56 L30.8 149.46 L31 148.36 L31.2 147.25 L31.3 146.69 L31.4 146.13 L31.6 145 L31.8 143.87 L31.9 143.31 L32 142.74 L32.2 141.61 L32.4 140.47 L32.5 139.9 L32.6 140.41 L32.8 141.6 L33 142.89 L33.2 144.22 L33.4 145.6 L33.6 147.01 L33.8 148.44 L34 149.9 L34.2 151.38 L34.4 152.87 L34.6 154.38 L34.8 155.9 L35 157.44 L35.2 158.99 L35.4 160.55 L35.6 162.12 L35.8 163.7 L36 165.3 L36.2 166.9 L36.3 167.7 L36.4 167.58 L36.6 167.36 L36.8 167.19 L37 167.04 L37.2 166.92 L37.4 166.82 L37.6 166.74 L37.8 166.67 L38 166.61 L38.2 166.56 L38.4 166.51 L38.6 166.47 L38.8 166.44 L39 166.41 L39.2 166.38 L39.4 166.36 L39.6 166.34 L39.8 166.31 L40 166.29 L40.2 166.27 L40.4 166.25 L40.6 166.24 L40.8 166.22 L41 166.2 L41.2 166.18 L41.4 166.16 L41.6 166.14 L41.8 166.13 L42 166.11 L42.2 166.09 L42.4 166.07 L42.6 166.05 L42.8 166.04 L43 166.02 L43.2 166 L43.4 165.98 L43.6 165.97 L43.8 165.95 L44 165.93 L44.2 165.92 L44.4 165.9 L44.6 165.88 L44.8 165.87 L45 165.85 L45.2 165.84 L45.4 165.83 L45.6 165.81 L45.8 165.8 L46 165.79 L46.2 165.78 L46.4 165.77 L46.6 165.76 L46.8 165.75 L47 165.74 L47.2 165.73 L47.4 165.73 L47.6 165.72 L47.8 165.71 L48 165.71 L48.2 165.71 L48.4 165.7 L48.6 165.7 L48.8 165.7 L49 165.7 L49.2 165.7 L49.4 165.7 L49.6 165.7 L49.8 165.7 L50 165.7 L50.2 165.71 L50.4 165.71 L50.6 165.71 L50.8 165.71 L51 165.72 L51.2 165.72 L51.4 165.72 L51.6 165.73 L51.8 165.73 L52 165.74 L52.2 165.74 L52.4 165.75 L52.6 165.75 L52.8 165.76 L53 165.77 L53.2 165.77 L53.4 165.78 L53.6 165.78 L53.8 165.79 L54 165.8 L54.2 165.81 L54.4 165.82 L54.6 165.82 L54.8 165.83 L55 165.84 L55.2 165.85 L55.4 165.86 L55.6 165.87 L55.8 165.88 L56 165.89 L56.2 165.9 L56.4 165.91 L56.6 165.92 L56.8 165.93 L57 165.94 L57.2 165.95 L57.4 165.96 L57.6 165.97 L57.8 165.98 L58 165.99 L58.2 166 L58.4 166.02 L58.6 166.03 L58.8 166.04 L59 166.05 L59.2 166.06 L59.4 166.07 L59.6 166.09 L59.8 166.1 L60 166.11 L60.2 166.12 L60.4 166.13 L60.6 166.15 L60.8 166.16 L61 166.17 L61.2 166.18 L61.4 166.19 L61.6 166.21 L61.8 166.22 L62 166.23 L62.2 166.24 L62.4 166.25 L62.6 166.27 L62.8 166.28 L63 166.29 L63.2 166.3 L63.4 166.31 L63.6 166.32 L63.8 166.33 L64 166.34 L64.2 166.35 L64.4 166.36 L64.6 166.38 L64.8 166.39 L65 166.4 L65.2 166.4 L65.4 166.41 L65.6 166.42 L65.8 166.43 L66 166.44 L66.2 166.45 L66.4 166.46 L66.6 166.46 L66.8 166.47 L67 166.47 L67.2 166.48 L67.4 166.48 L67.6 166.48 L67.8 166.48 L68 166.48 L68.2 166.48 L68.4 166.47 L68.6 166.46 L68.8 166.45 L69 166.43 L69.2 166.4 L69.4 166.37 L69.6 166.32 L69.8 166.27 L70 166.2 L70.2 166.11 L70.4 166 L70.6 165.87 L70.8 165.71 L71 165.51 L71.2 165.27 L71.4 164.99 L71.6 164.65 L71.8 164.26 L72 163.8 L72.2 163.28 L72.4 162.69 L72.6 162.02 L72.8 161.29 L73 160.49 L73.2 159.63 L73.4 158.72 L73.6 157.75 L73.8 156.73 L74 155.68 L74.2 154.59 L74.4 153.47 L74.6 152.32 L74.8 151.16 L75 149.98 L75.2 148.78 L75.4 147.58 L75.5 146.97 L75.6 146.36 L75.8 145.14 L76 143.91 L76.1 143.29 L76.2 142.67 L76.4 141.43 L76.6 140.19 L76.7 139.57 L76.8 138.95 L77 137.7 L77.2 138.92 L77.4 140.32 L77.6 141.8 L77.8 143.32 L78 144.88 L78.2 146.48 L78.4 148.1 L78.6 149.75 L78.8 151.42 L79 153.1 L79.2 154.8 L79.4 156.52 L79.6 158.25 L79.8 160 L80 161.76 L80.2 163.53 L80.4 165.31 L80.6 167.1 L80.7 168 L80.8 167.88 L81 167.66 L81.2 167.48 L81.4 167.34 L81.6 167.22 L81.8 167.11 L82 167.03 L82.2 166.95 L82.4 166.89 L82.6 166.84 L82.8 166.79 L83 166.74 L83.2 166.71 L83.4 166.67 L83.6 166.64 L83.8 166.61 L84 166.58 L84.2 166.55 L84.4 166.52 L84.6 166.49 L84.8 166.47 L85 166.44 L85.2 166.41 L85.4 166.39 L85.6 166.36 L85.8 166.33 L86 166.31 L86.2 166.28 L86.4 166.25 L86.6 166.22 L86.8 166.2 L87 166.17 L87.2 166.14 L87.4 166.12 L87.6 166.09 L87.8 166.07 L88 166.04 L88.2 166.02 L88.4 165.99 L88.6 165.97 L88.8 165.94 L89 165.92 L89.2 165.9 L89.4 165.88 L89.6 165.86 L89.8 165.84 L90 165.82 L90.2 165.8 L90.4 165.78 L90.6 165.77 L90.8 165.75 L91 165.74 L91.2 165.73 L91.4 165.71 L91.6 165.7 L91.8 165.7 L92 165.69 L92.2 165.68 L92.4 165.68 L92.6 165.67 L92.8 165.67 L93 165.67 L93.2 165.67 L93.4 165.67 L93.6 165.67 L93.8 165.67 L94 165.68 L94.2 165.68 L94.4 165.68 L94.6 165.68 L94.8 165.69 L95 165.69 L95.2 165.7 L95.4 165.7 L95.6 165.71 L95.8 165.71 L96 165.72 L96.2 165.73 L96.4 165.74 L96.6 165.74 L96.8 165.75 L97 165.76 L97.2 165.77 L97.4 165.78 L97.6 165.79 L97.8 165.8 L98 165.81 L98.2 165.82 L98.4 165.83 L98.6 165.85 L98.8 165.86 L99 165.87 L99.2 165.88 L99.4 165.9 L99.6 165.91 L99.8 165.92 L100 165.94 L100.2 165.95 L100.4 165.97 L100.6 165.98 L100.8 166 L101 166.01 L101.2 166.03 L101.4 166.04 L101.6 166.06 L101.8 166.08 L102 166.09 L102.2 166.11 L102.4 166.13 L102.6 166.14 L102.8 166.16 L103 166.18 L103.2 166.19 L103.4 166.21 L103.6 166.23 L103.8 166.25 L104 166.26 L104.2 166.28 L104.4 166.3 L104.6 166.32 L104.8 166.33 L105 166.35 L105.2 166.37 L105.4 166.39 L105.6 166.4 L105.8 166.42 L106 166.44 L106.2 166.46 L106.4 166.47 L106.6 166.49 L106.8 166.51 L107 166.52 L107.2 166.54 L107.4 166.55 L107.6 166.57 L107.8 166.59 L108 166.6 L108.2 166.62 L108.4 166.63 L108.6 166.65 L108.8 166.66 L109 166.68 L109.2 166.69 L109.4 166.7 L109.6 166.71 L109.8 166.73 L110 166.74 L110.2 166.75 L110.4 166.76 L110.6 166.77 L110.8 166.78 L111 166.78 L111.2 166.79 L111.4 166.79 L111.6 166.79 L111.8 166.79 L112 166.79 L112.2 166.78 L112.4 166.77 L112.6 166.75 L112.8 166.72 L113 166.69 L113.2 166.64 L113.4 166.59 L113.6 166.51 L113.8 166.42 L114 166.31 L114.2 166.17 L114.4 166 L114.6 165.79 L114.8 165.54 L115 165.25 L115.2 164.89 L115.4 164.47 L115.6 163.99 L115.8 163.44 L116 162.81 L116.2 162.11 L116.4 161.34 L116.6 160.5 L116.8 159.59 L117 158.62 L117.2 157.59 L117.4 156.52 L117.6 155.4 L117.8 154.25 L118 153.07 L118.2 151.86 L118.4 150.63 L118.6 149.38 L118.8 148.12 L119 146.84 L119.1 146.2 L119.2 145.55 L119.4 144.26 L119.6 142.96 L119.7 142.31 L119.8 141.66 L120 140.35 L120.2 139.03 L120.3 138.38 L120.4 137.72 L120.6 136.4 L120.8 137.67 L121 139.12 L121.2 140.66 L121.4 142.24 L121.6 143.87 L121.8 145.52 L122 147.21 L122.2 148.92 L122.4 150.65 L122.6 152.4 L122.8 154.17 L123 155.96 L123.2 157.76 L123.4 159.57 L123.6 161.4 L123.8 163.23 L124 165.09 L124.2 166.95 L124.35 168.35 L124.4 168.29 L124.6 168.06 L124.8 167.87 L125 167.72 L125.2 167.59 L125.4 167.48 L125.6 167.39 L125.8 167.31 L126 167.24 L126.2 167.18 L126.4 167.12 L126.6 167.07 L126.8 167.03 L127 166.98 L127.2 166.94 L127.4 166.9 L127.6 166.87 L127.8 166.83 L128 166.79 L128.2 166.76 L128.4 166.72 L128.6 166.68 L128.8 166.65 L129 166.61 L129.2 166.58 L129.4 166.54 L129.6 166.5 L129.8 166.47 L130 166.43 L130.2 166.39 L130.4 166.36 L130.6 166.32 L130.8 166.28 L131 166.25 L131.2 166.21 L131.4 166.18 L131.6 166.14 L131.8 166.11 L132 166.08 L132.2 166.05 L132.4 166.01 L132.6 165.98 L132.8 165.95 L133 165.93 L133.2 165.9 L133.4 165.88 L133.6 165.85 L133.8 165.83 L134 165.81 L134.2 165.79 L134.4 165.77 L134.6 165.75 L134.8 165.74 L135 165.73 L135.2 165.72 L135.4 165.71 L135.6 165.7 L135.8 165.7 L136 165.69 L136.2 165.69 L136.4 165.69 L136.6 165.69 L136.8 165.69 L137 165.69 L137.2 165.7 L137.4 165.7 L137.6 165.7 L137.8 165.7 L138 165.71 L138.2 165.71 L138.4 165.72 L138.6 165.72 L138.8 165.73 L139 165.74 L139.2 165.74 L139.4 165.75 L139.6 165.76 L139.8 165.77 L140 165.78 L140.2 165.79 L140.4 165.8 L140.6 165.81 L140.8 165.82 L141 165.83 L141.2 165.84 L141.4 165.85 L141.6 165.86 L141.8 165.87 L142 165.89 L142.2 165.9 L142.4 165.91 L142.6 165.93 L142.8 165.94 L143 165.96 L143.2 165.97 L143.4 165.99 L143.6 166 L143.8 166.02 L144 166.03 L144.2 166.05 L144.4 166.07 L144.6 166.08 L144.8 166.1 L145 166.12 L145.2 166.13 L145.4 166.15 L145.6 166.17 L145.8 166.18 L146 166.2 L146.2 166.22 L146.4 166.24 L146.6 166.25 L146.8 166.27 L147 166.29 L147.2 166.31 L147.4 166.33 L147.6 166.34 L147.8 166.36 L148 166.38 L148.2 166.4 L148.4 166.41 L148.6 166.43 L148.8 166.45 L149 166.47 L149.2 166.48 L149.4 166.5 L149.6 166.52 L149.8 166.54 L150 166.55 L150.2 166.57 L150.4 166.58 L150.6 166.6 L150.8 166.62 L151 166.63 L151.2 166.65 L151.4 166.66 L151.6 166.68 L151.8 166.69 L152 166.7 L152.2 166.71 L152.4 166.73 L152.6 166.74 L152.8 166.75 L153 166.76 L153.2 166.77 L153.4 166.77 L153.6 166.78 L153.8 166.78 L154 166.78 L154.2 166.78 L154.4 166.78 L154.6 166.77 L154.8 166.76 L155 166.74 L155.2 166.71 L155.4 166.67 L155.6 166.63 L155.8 166.57 L156 166.49 L156.2 166.4 L156.4 166.28 L156.6 166.13 L156.8 165.95 L157 165.73 L157.2 165.47 L157.4 165.16 L157.6 164.78 L157.8 164.34 L158 163.84 L158.2 163.25 L158.4 162.6 L158.6 161.86 L158.8 161.05 L159 160.16 L159.2 159.2 L159.4 158.18 L159.6 157.1 L159.8 155.97 L160 154.8 L160.2 153.59 L160.4 152.34 L160.6 151.07 L160.8 149.77 L161 148.46 L161.2 147.13 L161.4 145.79 L161.5 145.11 L161.6 144.43 L161.8 143.07 L162 141.7 L162.1 141.02 L162.2 140.33 L162.4 138.95 L162.6 137.57 L162.7 136.88 L162.8 136.19 L163 134.8 L163.2 136.24 L163.4 137.89 L163.6 139.62 L163.8 141.42 L164 143.26 L164.2 145.14 L164.4 147.04 L164.6 148.98 L164.8 150.94 L165 152.93 L165.2 154.93 L165.4 156.95 L165.6 158.99 L165.8 161.05 L166 163.12 L166.2 165.2 L166.4 167.3 L166.5 168.35 L166.6 168.23 L166.8 168.01 L167 167.83 L167.2 167.68 L167.4 167.55 L167.6 167.44 L167.8 167.35 L168 167.27 L168.2 167.2 L168.4 167.13 L168.6 167.07 L168.8 167.02 L169 166.97 L169.2 166.92 L169.4 166.87 L169.6 166.82 L169.8 166.77 L170 166.73 L170.2 166.68 L170.4 166.64 L170.6 166.59 L170.8 166.54 L171 166.5 L171.2 166.45 L171.4 166.4 L171.6 166.36 L171.8 166.31 L172 166.26 L172.2 166.21 L172.4 166.17 L172.6 166.12 L172.8 166.07 L173 166.03 L173.2 165.98 L173.4 165.94 L173.6 165.89 L173.8 165.85 L174 165.81 L174.2 165.77 L174.4 165.73 L174.6 165.69 L174.8 165.66 L175 165.62 L175.2 165.59 L175.4 165.56 L175.6 165.53 L175.8 165.5 L176 165.48 L176.2 165.46 L176.4 165.43 L176.6 165.42 L176.8 165.4 L177 165.39 L177.2 165.38 L177.4 165.37 L177.6 165.36 L177.8 165.36 L178 165.36 L178.2 165.36 L178.4 165.36 L178.6 165.37 L178.8 165.37 L179 165.38 L179.2 165.38 L179.4 165.39 L179.6 165.4 L179.8 165.41 L180 165.43 L180.2 165.44 L180.4 165.45 L180.6 165.47 L180.8 165.48 L181 165.5 L181.2 165.52 L181.4 165.54 L181.6 165.56 L181.8 165.58 L182 165.61 L182.2 165.63 L182.4 165.66 L182.6 165.68 L182.8 165.71 L183 165.74 L183.2 165.77 L183.4 165.8 L183.6 165.83 L183.8 165.86 L184 165.89 L184.2 165.92 L184.4 165.96 L184.6 165.99 L184.8 166.03 L185 166.06 L185.2 166.1 L185.4 166.14 L185.6 166.18 L185.8 166.21 L186 166.25 L186.2 166.29 L186.4 166.33 L186.6 166.37 L186.8 166.41 L187 166.45 L187.2 166.49 L187.4 166.54 L187.6 166.58 L187.8 166.62 L188 166.66 L188.2 166.7 L188.4 166.74 L188.6 166.79 L188.8 166.83 L189 166.87 L189.2 166.91 L189.4 166.95 L189.6 166.99 L189.8 167.04 L190 167.08 L190.2 167.12 L190.4 167.16 L190.6 167.2 L190.8 167.24 L191 167.28 L191.2 167.32 L191.4 167.36 L191.6 167.39 L191.8 167.43 L192 167.47 L192.2 167.5 L192.4 167.54 L192.6 167.57 L192.8 167.6 L193 167.64 L193.2 167.67 L193.4 167.7 L193.6 167.73 L193.8 167.75 L194 167.78 L194.2 167.8 L194.4 167.82 L194.6 167.84 L194.8 167.86 L195 167.87 L195.2 167.87 L195.4 167.88 L195.6 167.87 L195.8 167.86 L196 167.84 L196.2 167.81 L196.4 167.76 L196.6 167.7 L196.8 167.62 L197 167.52 L197.2 167.39 L197.4 167.22 L197.6 167.02 L197.8 166.77 L198 166.47 L198.2 166.1 L198.4 165.67 L198.6 165.17 L198.8 164.58 L199 163.9 L199.2 163.13 L199.4 162.28 L199.6 161.33 L199.8 160.3 L200 159.19 L200.2 158 L200.4 156.74 L200.6 155.43 L200.8 154.07 L201 152.65 L201.2 151.21 L201.4 149.73 L201.6 148.22 L201.8 146.69 L202 145.14 L202.2 143.58 L202.3 142.8 L202.4 142.01 L202.6 140.42 L202.8 138.83 L202.9 138.03 L203 137.23 L203.2 135.63 L203.4 134.02 L203.5 133.22 L203.6 132.41 L203.8 130.8 L204 132.49 L204.2 134.43 L204.4 136.46 L204.6 138.57 L204.8 140.74 L205 142.94 L205.2 145.19 L205.4 147.46 L205.6 149.77 L205.8 152.1 L206 154.45 L206.2 156.83 L206.4 159.23 L206.6 161.64 L206.8 164.07 L207 166.52 L207.2 168.98 L207.25 169.6 L207.4 169.42 L207.6 169.21 L207.8 169.04 L208 168.89 L208.2 168.77 L208.4 168.66 L208.6 168.57 L208.8 168.48 L209 168.41 L209.2 168.34 L209.4 168.28 L209.6 168.22 L209.8 168.16 L210 168.1 L210.2 168.05 L210.4 168 L210.6 167.94 L210.8 167.89 L211 167.83 L211.2 167.78 L211.4 167.72 L211.6 167.67 L211.8 167.61 L212 167.56 L212.2 167.5 L212.4 167.44 L212.6 167.39 L212.8 167.33 L213 167.27 L213.2 167.22 L213.4 167.16 L213.6 167.11 L213.8 167.05 L214 167 L214.2 166.94 L214.4 166.89 L214.6 166.84 L214.8 166.79 L215 166.74 L215.2 166.7 L215.4 166.65 L215.6 166.61 L215.8 166.57 L216 166.53 L216.2 166.5 L216.4 166.46 L216.6 166.43 L216.8 166.4 L217 166.38 L217.2 166.36 L217.4 166.34 L217.6 166.32 L217.8 166.31 L218 166.29 L218.2 166.29 L218.4 166.28 L218.6 166.28 L218.8 166.28 L219 166.28 L219.2 166.29 L219.4 166.29 L219.6 166.3 L219.8 166.3 L220 166.31 L220.2 166.32 L220.4 166.33 L220.6 166.34 L220.8 166.36 L221 166.37 L221.2 166.39 L221.4 166.4 L221.6 166.42 L221.8 166.44 L222 166.46 L222.2 166.48 L222.4 166.51 L222.6 166.53 L222.8 166.56 L223 166.58 L223.2 166.61 L223.4 166.64 L223.6 166.67 L223.8 166.7 L224 166.73 L224.2 166.76 L224.4 166.79 L224.6 166.82 L224.8 166.86 L225 166.89 L225.2 166.93 L225.4 166.97 L225.6 167 L225.8 167.04 L226 167.08 L226.2 167.12 L226.4 167.16 L226.6 167.2 L226.8 167.24 L227 167.28 L227.2 167.32 L227.4 167.36 L227.6 167.41 L227.8 167.45 L228 167.49 L228.2 167.53 L228.4 167.58 L228.6 167.62 L228.8 167.66 L229 167.71 L229.2 167.75 L229.4 167.79 L229.6 167.84 L229.8 167.88 L230 167.92 L230.2 167.97 L230.4 168.01 L230.6 168.05 L230.8 168.09 L231 168.14 L231.2 168.18 L231.4 168.22 L231.6 168.26 L231.8 168.3 L232 168.34 L232.2 168.38 L232.4 168.42 L232.6 168.45 L232.8 168.49 L233 168.53 L233.2 168.56 L233.4 168.59 L233.6 168.63 L233.8 168.66 L234 168.69 L234.2 168.72 L234.4 168.74 L234.6 168.77 L234.8 168.79 L235 168.81 L235.2 168.82 L235.4 168.84 L235.6 168.84 L235.8 168.84 L236 168.84 L236.2 168.83 L236.4 168.8 L236.6 168.77 L236.8 168.72 L237 168.65 L237.2 168.56 L237.4 168.45 L237.6 168.3 L237.8 168.12 L238 167.9 L238.2 167.62 L238.4 167.28 L238.6 166.87 L238.8 166.39 L239 165.82 L239.2 165.15 L239.4 164.37 L239.6 163.49 L239.8 162.5 L240 161.4 L240.2 160.19 L240.4 158.88 L240.6 157.47 L240.8 155.98 L241 154.41 L241.2 152.77 L241.4 151.07 L241.6 149.33 L241.8 147.53 L242 145.71 L242.2 143.85 L242.4 141.97 L242.6 140.07 L242.8 138.16 L243 136.23 L243.1 135.26 L243.2 134.29 L243.4 132.34 L243.6 130.38 L243.7 129.4 L243.8 128.42 L244 126.46 L244.2 124.49 L244.3 123.5 L244.4 124.46 L244.6 126.71 L244.8 129.13 L245 131.65 L245.2 134.24 L245.4 136.9 L245.6 139.6 L245.8 142.34 L246 145.12 L246.2 147.94 L246.4 150.78 L246.6 153.65 L246.8 156.55 L247 159.47 L247.2 162.41 L247.4 165.37 L247.6 168.35 L247.75 170.6 L247.8 170.54 L248 170.31 L248.2 170.12 L248.4 169.96 L248.6 169.82 L248.8 169.7 L249 169.6 L249.2 169.51 L249.4 169.43 L249.6 169.35 L249.8 169.28 L250 169.21 L250.2 169.15 L250.4 169.08 L250.6 169.02 L250.8 168.96 L251 168.9 L251.2 168.84 L251.4 168.77 L251.6 168.71 L251.8 168.65 L252 168.58 L252.2 168.52 L252.4 168.45 L252.6 168.39 L252.8 168.32 L253 168.26 L253.2 168.19 L253.4 168.12 L253.6 168.06 L253.8 167.99 L254 167.92 L254.2 167.86 L254.4 167.8 L254.6 167.73 L254.8 167.67 L255 167.61 L255.2 167.55 L255.4 167.5 L255.6 167.44 L255.8 167.39 L256 167.34 L256.2 167.29 L256.4 167.25 L256.6 167.2 L256.8 167.17 L257 167.13 L257.2 167.1 L257.4 167.07 L257.6 167.04 L257.8 167.02 L258 167 L258.2 166.98 L258.4 166.97 L258.6 166.96 L258.8 166.95 L259 166.95 L259.2 166.95 L259.4 166.95 L259.6 166.96 L259.8 166.96 L260 166.96 L260.2 166.97 L260.4 166.98 L260.6 166.99 L260.8 167 L261 167.01 L261.2 167.02 L261.4 167.04 L261.6 167.05 L261.8 167.07 L262 167.08 L262.2 167.1 L262.4 167.12 L262.6 167.14 L262.8 167.16 L263 167.18 L263.2 167.21 L263.4 167.23 L263.6 167.25 L263.8 167.28 L264 167.31 L264.2 167.33 L264.4 167.36 L264.6 167.39 L264.8 167.42 L265 167.45 L265.2 167.48 L265.4 167.52 L265.6 167.55 L265.8 167.58 L266 167.62 L266.2 167.65 L266.4 167.69 L266.6 167.72 L266.8 167.76 L267 167.8 L267.2 167.84 L267.4 167.87 L267.6 167.91 L267.8 167.95 L268 167.99 L268.2 168.03 L268.4 168.07 L268.6 168.11 L268.8 168.15 L269 168.19 L269.2 168.22 L269.4 168.26 L269.6 168.3 L269.8 168.34 L270 168.38 L270.2 168.42 L270.4 168.46 L270.6 168.5 L270.8 168.54 L271 168.58 L271.2 168.62 L271.4 168.66 L271.6 168.69 L271.8 168.73 L272 168.77 L272.2 168.81 L272.4 168.84 L272.6 168.88 L272.8 168.91 L273 168.94 L273.2 168.98 L273.4 169.01 L273.6 169.04 L273.8 169.07 L274 169.1 L274.2 169.13 L274.4 169.15 L274.6 169.17 L274.8 169.2 L275 169.21 L275.2 169.23 L275.4 169.24 L275.6 169.25 L275.8 169.25 L276 169.25 L276.2 169.24 L276.4 169.22 L276.6 169.19 L276.8 169.15 L277 169.09 L277.2 169.02 L277.4 168.92 L277.6 168.79 L277.8 168.63 L278 168.43 L278.2 168.18 L278.4 167.87 L278.6 167.5 L278.8 167.05 L279 166.52 L279.2 165.89 L279.4 165.16 L279.6 164.31 L279.8 163.34 L280 162.25 L280.2 161.05 L280.4 159.72 L280.6 158.28 L280.8 156.74 L281 155.11 L281.2 153.38 L281.4 151.59 L281.6 149.73 L281.8 147.81 L282 145.85 L282.2 143.85 L282.4 141.81 L282.6 139.75 L282.8 137.67 L283 135.57 L283.2 133.45 L283.3 132.39 L283.4 131.33 L283.6 129.19 L283.8 127.05 L283.9 125.97 L284 124.9 L284.2 122.74 L284.4 120.58 L284.5 119.5 L284.6 120.53 L284.8 122.95 L285 125.56 L285.2 128.27 L285.4 131.06 L285.6 133.92 L285.8 136.82 L286 139.78 L286.2 142.77 L286.4 145.8 L286.6 148.86 L286.8 151.95 L287 155.07 L287.2 158.21 L287.4 161.38 L287.6 164.56 L287.8 167.77 L288 171 L288.2 170.76 L288.4 170.56 L288.6 170.39 L288.8 170.25 L289 170.13 L289.2 170.02 L289.4 169.92 L289.6 169.83 L289.8 169.75 L290 169.67 L290.2 169.6 L290.4 169.53 L290.6 169.46 L290.8 169.39 L291 169.32 L291.2 169.25 L291.4 169.18 L291.6 169.11 L291.8 169.04 L292 168.97 L292.2 168.9 L292.4 168.82 L292.6 168.75 L292.8 168.67 L293 168.6 L293.2 168.52 L293.4 168.45 L293.6 168.37 L293.8 168.3 L294 168.22 L294.2 168.15 L294.4 168.07 L294.6 168 L294.8 167.93 L295 167.86 L295.2 167.79 L295.4 167.72 L295.6 167.66 L295.8 167.59 L296 167.53 L296.2 167.47 L296.4 167.42 L296.6 167.37 L296.8 167.32 L297 167.27 L297.2 167.23 L297.4 167.19 L297.6 167.16 L297.8 167.13 L298 167.1 L298.2 167.08 L298.4 167.06 L298.6 167.04 L298.8 167.03 L299 167.02 L299.2 167.02 L299.4 167.02 L299.6 167.02 L299.8 167.02 L300 167.03 L300.2 167.03 L300.4 167.04 L300.6 167.05 L300.8 167.06 L301 167.07 L301.2 167.08 L301.4 167.09 L301.6 167.1 L301.8 167.12 L302 167.13 L302.2 167.15 L302.4 167.16 L302.6 167.18 L302.8 167.2 L303 167.22 L303.2 167.24 L303.4 167.27 L303.6 167.29 L303.8 167.31 L304 167.34 L304.2 167.36 L304.4 167.39 L304.6 167.42 L304.8 167.45 L305 167.48 L305.2 167.51 L305.4 167.54 L305.6 167.57 L305.8 167.6 L306 167.63 L306.2 167.67 L306.4 167.7 L306.6 167.74 L306.8 167.77 L307 167.81 L307.2 167.84 L307.4 167.88 L307.6 167.91 L307.8 167.95 L308 167.99 L308.2 168.03 L308.4 168.07 L308.6 168.1 L308.8 168.14 L309 168.18 L309.2 168.22 L309.4 168.26 L309.6 168.3 L309.8 168.34 L310 168.37 L310.2 168.41 L310.4 168.45 L310.6 168.49 L310.8 168.53 L311 168.57 L311.2 168.6 L311.4 168.64 L311.6 168.68 L311.8 168.72 L312 168.75 L312.2 168.79 L312.4 168.82 L312.6 168.86 L312.8 168.89 L313 168.93 L313.2 168.96 L313.4 168.99 L313.6 169.02 L313.8 169.05 L314 169.08 L314.2 169.11 L314.4 169.14 L314.6 169.16 L314.8 169.18 L315 169.2 L315.2 169.22 L315.4 169.24 L315.6 169.25 L315.8 169.25 L316 169.26 L316.2 169.25 L316.4 169.24 L316.6 169.22 L316.8 169.19 L317 169.14 L317.2 169.08 L317.4 169 L317.6 168.9 L317.8 168.77 L318 168.6 L318.2 168.39 L318.4 168.13 L318.6 167.82 L318.8 167.43 L319 166.97 L319.2 166.42 L319.4 165.77 L319.6 165.01 L319.8 164.13 L320 163.13 L320.2 162.01 L320.4 160.76 L320.6 159.39 L320.8 157.9 L321 156.31 L321.2 154.61 L321.4 152.83 L321.6 150.98 L321.8 149.05 L322 147.07 L322.2 145.04 L322.4 142.97 L322.6 140.87 L322.8 138.74 L323 136.59 L323.2 134.41 L323.4 132.23 L323.5 131.13 L323.6 130.03 L323.8 127.82 L324 125.6 L324.1 124.49 L324.2 123.38 L324.4 121.15 L324.6 118.92 L324.7 117.8 L324.8 118.77 L325 121.06 L325.2 123.52 L325.4 126.07 L325.6 128.71 L325.8 131.4 L326 134.15 L326.2 136.94 L326.4 139.76 L326.6 142.62 L326.8 145.51 L327 148.42 L327.2 151.36 L327.4 154.33 L327.6 157.32 L327.8 160.33 L328 163.35 L328.2 166.4 L328.4 169.46 L328.5 171 L328.6 170.88 L328.8 170.66 L329 170.48 L329.2 170.33 L329.4 170.2 L329.6 170.09 L329.8 169.99 L330 169.91 L330.2 169.83 L330.4 169.76 L330.6 169.7 L330.8 169.63 L331 169.58 L331.2 169.52 L331.4 169.46 L331.6 169.41 L331.8 169.35 L332 169.3 L332.2 169.24 L332.4 169.19 L332.6 169.13 L332.8 169.07 L333 169.01 L333.2 168.95 L333.4 168.89 L333.6 168.83 L333.8 168.76 L334 168.7 L334.2 168.63 L334.4 168.57 L334.6 168.5 L334.8 168.43 L335 168.37 L335.2 168.3 L335.4 168.23 L335.6 168.16 L335.8 168.09 L336 168.03 L336.2 167.96 L336.4 167.89 L336.6 167.83 L336.8 167.76 L337 167.7 L337.2 167.63 L337.4 167.57 L337.6 167.51 L337.8 167.45 L338 167.39 L338.2 167.34 L338.4 167.28 L338.6 167.23 L338.8 167.18 L339 167.13 L339.2 167.08 L339.4 167.04 L339.6 167 L339.8 166.96 L340 166.92 L340.2 166.89 L340.4 166.85 L340.6 166.82 L340.8 166.8 L341 166.77 L341.2 166.75 L341.4 166.74 L341.6 166.72 L341.8 166.71 L342 166.7 L342.2 166.69 L342.4 166.69" stroke="#2e6a52" stroke-width="1.75" fill="none" stroke-linejoin="round" stroke-linecap="round" clip-path="url(#cp1)"/>
<clipPath id="cp2"><rect x="18.4" y="185.4" width="324.1" height="78.05"/></clipPath>
<path d="M18.4 255.6 L18.6 255.6 L18.8 255.59 L19 255.58 L19.2 255.56 L19.4 255.53 L19.6 255.51 L19.8 255.47 L20 255.43 L20.2 255.39 L20.4 255.34 L20.6 255.29 L20.8 255.24 L21 255.18 L21.2 255.12 L21.4 255.06 L21.6 254.99 L21.8 254.92 L22 254.85 L22.2 254.78 L22.4 254.71 L22.6 254.64 L22.8 254.56 L23 254.49 L23.2 254.42 L23.4 254.35 L23.6 254.28 L23.8 254.21 L24 254.14 L24.2 254.08 L24.4 254.02 L24.6 253.96 L24.8 253.91 L25 253.86 L25.2 253.81 L25.4 253.77 L25.6 253.73 L25.8 253.69 L26 253.67 L26.2 253.64 L26.4 253.62 L26.6 253.61 L26.8 253.6 L27 253.6 L27.2 253.6 L27.4 253.6 L27.6 253.6 L27.8 253.6 L28 253.61 L28.2 253.61 L28.4 253.61 L28.6 253.62 L28.8 253.62 L29 253.62 L29.2 253.63 L29.4 253.63 L29.6 253.64 L29.8 253.65 L30 253.65 L30.2 253.66 L30.4 253.67 L30.6 253.67 L30.8 253.68 L31 253.69 L31.2 253.7 L31.4 253.7 L31.6 253.71 L31.8 253.72 L32 253.73 L32.2 253.74 L32.4 253.75 L32.6 253.75 L32.8 253.76 L33 253.77 L33.2 253.78 L33.4 253.79 L33.6 253.8 L33.8 253.8 L34 253.81 L34.2 253.82 L34.4 253.83 L34.6 253.83 L34.8 253.84 L35 253.85 L35.2 253.85 L35.4 253.86 L35.6 253.87 L35.8 253.87 L36 253.88 L36.2 253.88 L36.4 253.88 L36.6 253.89 L36.8 253.89 L37 253.89 L37.2 253.9 L37.4 253.9 L37.6 253.9 L37.8 253.9 L38 253.9 L38.2 253.9 L38.4 253.9 L38.6 253.91 L38.8 253.91 L39 253.92 L39.2 253.93 L39.4 253.94 L39.6 253.96 L39.8 253.97 L40 253.99 L40.2 254.01 L40.4 254.03 L40.6 254.05 L40.8 254.07 L41 254.1 L41.2 254.12 L41.4 254.15 L41.6 254.17 L41.8 254.2 L42 254.23 L42.2 254.26 L42.4 254.28 L42.6 254.31 L42.8 254.34 L43 254.36 L43.2 254.38 L43.4 254.39 L43.6 254.4 L43.8 254.39 L44 254.37 L44.2 254.33 L44.4 254.27 L44.6 254.16 L44.8 254.01 L45 253.8 L45.2 253.52 L45.4 253.15 L45.6 252.68 L45.8 252.1 L46 251.41 L46.2 250.61 L46.4 249.71 L46.6 248.73 L46.8 247.66 L47 246.54 L47.2 245.37 L47.4 244.17 L47.6 242.93 L47.8 241.67 L48 240.4 L48.2 239.11 L48.3 238.47 L48.4 237.82 L48.6 236.51 L48.8 235.2 L48.9 234.55 L49 233.89 L49.2 232.57 L49.4 231.25 L49.5 230.59 L49.6 229.93 L49.8 228.6 L50 229.97 L50.2 231.53 L50.4 233.18 L50.6 234.89 L50.8 236.64 L51 238.43 L51.2 240.24 L51.4 242.08 L51.6 243.95 L51.8 245.83 L52 247.74 L52.2 249.66 L52.4 251.6 L52.6 253.55 L52.8 255.52 L53 257.5 L53.05 258 L53.2 257.79 L53.4 257.55 L53.6 257.36 L53.8 257.19 L54 257.06 L54.2 256.94 L54.4 256.84 L54.6 256.76 L54.8 256.69 L55 256.62 L55.2 256.56 L55.4 256.51 L55.6 256.46 L55.8 256.42 L56 256.37 L56.2 256.33 L56.4 256.29 L56.6 256.25 L56.8 256.21 L57 256.17 L57.2 256.13 L57.4 256.09 L57.6 256.04 L57.8 256 L58 255.96 L58.2 255.92 L58.4 255.87 L58.6 255.83 L58.8 255.78 L59 255.73 L59.2 255.69 L59.4 255.64 L59.6 255.59 L59.8 255.54 L60 255.49 L60.2 255.44 L60.4 255.39 L60.6 255.34 L60.8 255.29 L61 255.24 L61.2 255.19 L61.4 255.13 L61.6 255.08 L61.8 255.03 L62 254.98 L62.2 254.93 L62.4 254.88 L62.6 254.83 L62.8 254.78 L63 254.73 L63.2 254.68 L63.4 254.64 L63.6 254.59 L63.8 254.54 L64 254.5 L64.2 254.45 L64.4 254.41 L64.6 254.37 L64.8 254.33 L65 254.29 L65.2 254.25 L65.4 254.21 L65.6 254.18 L65.8 254.14 L66 254.11 L66.2 254.08 L66.4 254.05 L66.6 254.02 L66.8 253.99 L67 253.96 L67.2 253.94 L67.4 253.92 L67.6 253.9 L67.8 253.88 L68 253.86 L68.2 253.85 L68.4 253.84 L68.6 253.83 L68.8 253.82 L69 253.81 L69.2 253.8 L69.4 253.8 L69.6 253.8 L69.8 253.8 L70 253.8 L70.2 253.8 L70.4 253.8 L70.6 253.81 L70.8 253.81 L71 253.81 L71.2 253.81 L71.4 253.82 L71.6 253.82 L71.8 253.83 L72 253.83 L72.2 253.84 L72.4 253.84 L72.6 253.85 L72.8 253.85 L73 253.86 L73.2 253.87 L73.4 253.87 L73.6 253.88 L73.8 253.89 L74 253.9 L74.2 253.91 L74.4 253.92 L74.6 253.93 L74.8 253.94 L75 253.95 L75.2 253.96 L75.4 253.97 L75.6 253.98 L75.8 253.99 L76 254 L76.2 254.01 L76.4 254.03 L76.6 254.04 L76.8 254.05 L77 254.06 L77.2 254.08 L77.4 254.09 L77.6 254.1 L77.8 254.11 L78 254.13 L78.2 254.14 L78.4 254.16 L78.6 254.17 L78.8 254.18 L79 254.2 L79.2 254.21 L79.4 254.22 L79.6 254.24 L79.8 254.25 L80 254.27 L80.2 254.28 L80.4 254.29 L80.6 254.31 L80.8 254.32 L81 254.34 L81.2 254.35 L81.4 254.36 L81.6 254.38 L81.8 254.39 L82 254.4 L82.2 254.42 L82.4 254.43 L82.6 254.44 L82.8 254.45 L83 254.47 L83.2 254.48 L83.4 254.49 L83.6 254.5 L83.8 254.51 L84 254.52 L84.2 254.54 L84.4 254.55 L84.6 254.56 L84.8 254.57 L85 254.58 L85.2 254.58 L85.4 254.59 L85.6 254.6 L85.8 254.61 L86 254.61 L86.2 254.62 L86.4 254.62 L86.6 254.63 L86.8 254.63 L87 254.62 L87.2 254.61 L87.4 254.6 L87.6 254.58 L87.8 254.55 L88 254.51 L88.2 254.45 L88.4 254.36 L88.6 254.24 L88.8 254.07 L89 253.85 L89.2 253.56 L89.4 253.19 L89.6 252.72 L89.8 252.13 L90 251.44 L90.2 250.62 L90.4 249.7 L90.6 248.68 L90.8 247.58 L91 246.41 L91.2 245.18 L91.4 243.91 L91.6 242.61 L91.8 241.28 L92 239.93 L92.2 238.57 L92.4 237.2 L92.6 235.82 L92.7 235.13 L92.8 234.44 L93 233.06 L93.2 231.67 L93.3 230.98 L93.4 230.28 L93.6 228.89 L93.8 227.5 L93.9 226.8 L94 227.4 L94.2 228.8 L94.4 230.3 L94.6 231.87 L94.8 233.48 L95 235.13 L95.2 236.81 L95.4 238.52 L95.6 240.25 L95.8 242 L96 243.77 L96.2 245.55 L96.4 247.36 L96.6 249.17 L96.8 251 L97 252.84 L97.2 254.7 L97.4 256.56 L97.5 257.5 L97.6 257.36 L97.8 257.11 L98 256.9 L98.2 256.73 L98.4 256.59 L98.6 256.47 L98.8 256.36 L99 256.28 L99.2 256.2 L99.4 256.13 L99.6 256.07 L99.8 256.01 L100 255.96 L100.2 255.91 L100.4 255.87 L100.6 255.82 L100.8 255.78 L101 255.73 L101.2 255.69 L101.4 255.65 L101.6 255.6 L101.8 255.56 L102 255.52 L102.2 255.47 L102.4 255.43 L102.6 255.38 L102.8 255.33 L103 255.28 L103.2 255.23 L103.4 255.18 L103.6 255.13 L103.8 255.08 L104 255.03 L104.2 254.98 L104.4 254.93 L104.6 254.88 L104.8 254.82 L105 254.77 L105.2 254.72 L105.4 254.66 L105.6 254.61 L105.8 254.55 L106 254.5 L106.2 254.45 L106.4 254.4 L106.6 254.34 L106.8 254.29 L107 254.24 L107.2 254.19 L107.4 254.14 L107.6 254.09 L107.8 254.04 L108 254 L108.2 253.95 L108.4 253.9 L108.6 253.86 L108.8 253.82 L109 253.78 L109.2 253.74 L109.4 253.7 L109.6 253.66 L109.8 253.63 L110 253.59 L110.2 253.56 L110.4 253.53 L110.6 253.5 L110.8 253.47 L111 253.45 L111.2 253.42 L111.4 253.4 L111.6 253.38 L111.8 253.37 L112 253.35 L112.2 253.34 L112.4 253.33 L112.6 253.32 L112.8 253.31 L113 253.3 L113.2 253.3 L113.4 253.3 L113.6 253.3 L113.8 253.3 L114 253.3 L114.2 253.31 L114.4 253.31 L114.6 253.32 L114.8 253.32 L115 253.33 L115.2 253.34 L115.4 253.34 L115.6 253.35 L115.8 253.36 L116 253.37 L116.2 253.39 L116.4 253.4 L116.6 253.41 L116.8 253.43 L117 253.44 L117.2 253.46 L117.4 253.47 L117.6 253.49 L117.8 253.51 L118 253.53 L118.2 253.55 L118.4 253.56 L118.6 253.59 L118.8 253.61 L119 253.63 L119.2 253.65 L119.4 253.67 L119.6 253.69 L119.8 253.72 L120 253.74 L120.2 253.77 L120.4 253.79 L120.6 253.82 L120.8 253.84 L121 253.87 L121.2 253.89 L121.4 253.92 L121.6 253.95 L121.8 253.97 L122 254 L122.2 254.03 L122.4 254.05 L122.6 254.08 L122.8 254.11 L123 254.14 L123.2 254.16 L123.4 254.19 L123.6 254.22 L123.8 254.25 L124 254.27 L124.2 254.3 L124.4 254.33 L124.6 254.36 L124.8 254.38 L125 254.41 L125.2 254.43 L125.4 254.46 L125.6 254.49 L125.8 254.51 L126 254.54 L126.2 254.56 L126.4 254.58 L126.6 254.61 L126.8 254.63 L127 254.65 L127.2 254.67 L127.4 254.7 L127.6 254.72 L127.8 254.74 L128 254.75 L128.2 254.77 L128.4 254.79 L128.6 254.81 L128.8 254.82 L129 254.84 L129.2 254.85 L129.4 254.86 L129.6 254.87 L129.8 254.87 L130 254.87 L130.2 254.86 L130.4 254.85 L130.6 254.83 L130.8 254.79 L131 254.74 L131.2 254.66 L131.4 254.54 L131.6 254.39 L131.8 254.17 L132 253.89 L132.2 253.52 L132.4 253.05 L132.6 252.46 L132.8 251.74 L133 250.89 L133.2 249.91 L133.4 248.82 L133.6 247.62 L133.8 246.34 L134 244.98 L134.2 243.58 L134.4 242.13 L134.6 240.64 L134.8 239.14 L135 237.61 L135.2 236.08 L135.3 235.31 L135.4 234.53 L135.6 232.98 L135.8 231.42 L135.9 230.64 L136 229.86 L136.2 228.3 L136.4 226.73 L136.5 225.95 L136.6 225.17 L136.8 223.6 L137 225.17 L137.2 226.96 L137.4 228.84 L137.6 230.8 L137.8 232.8 L138 234.84 L138.2 236.92 L138.4 239.02 L138.6 241.16 L138.8 243.31 L139 245.49 L139.2 247.69 L139.4 249.91 L139.6 252.15 L139.8 254.4 L140 256.66 L140.1 257.8 L140.2 257.66 L140.4 257.41 L140.6 257.2 L140.8 257.03 L141 256.89 L141.2 256.77 L141.4 256.66 L141.6 256.57 L141.8 256.5 L142 256.43 L142.2 256.37 L142.4 256.31 L142.6 256.26 L142.8 256.21 L143 256.16 L143.2 256.12 L143.4 256.07 L143.6 256.03 L143.8 255.99 L144 255.94 L144.2 255.9 L144.4 255.85 L144.6 255.81 L144.8 255.76 L145 255.72 L145.2 255.67 L145.4 255.62 L145.6 255.57 L145.8 255.52 L146 255.47 L146.2 255.42 L146.4 255.37 L146.6 255.32 L146.8 255.27 L147 255.21 L147.2 255.16 L147.4 255.11 L147.6 255.05 L147.8 255 L148 254.94 L148.2 254.89 L148.4 254.84 L148.6 254.78 L148.8 254.73 L149 254.68 L149.2 254.62 L149.4 254.57 L149.6 254.52 L149.8 254.47 L150 254.42 L150.2 254.37 L150.4 254.32 L150.6 254.28 L150.8 254.23 L151 254.18 L151.2 254.14 L151.4 254.1 L151.6 254.06 L151.8 254.02 L152 253.98 L152.2 253.94 L152.4 253.91 L152.6 253.87 L152.8 253.84 L153 253.81 L153.2 253.78 L153.4 253.76 L153.6 253.73 L153.8 253.71 L154 253.69 L154.2 253.67 L154.4 253.66 L154.6 253.64 L154.8 253.63 L155 253.62 L155.2 253.61 L155.4 253.61 L155.6 253.6 L155.8 253.6 L156 253.6 L156.2 253.6 L156.4 253.6 L156.6 253.61 L156.8 253.61 L157 253.61 L157.2 253.62 L157.4 253.62 L157.6 253.63 L157.8 253.64 L158 253.65 L158.2 253.65 L158.4 253.66 L158.6 253.67 L158.8 253.69 L159 253.7 L159.2 253.71 L159.4 253.72 L159.6 253.74 L159.8 253.75 L160 253.77 L160.2 253.78 L160.4 253.8 L160.6 253.81 L160.8 253.83 L161 253.85 L161.2 253.87 L161.4 253.89 L161.6 253.91 L161.8 253.93 L162 253.95 L162.2 253.97 L162.4 253.99 L162.6 254.01 L162.8 254.03 L163 254.06 L163.2 254.08 L163.4 254.1 L163.6 254.12 L163.8 254.15 L164 254.17 L164.2 254.2 L164.4 254.22 L164.6 254.24 L164.8 254.27 L165 254.29 L165.2 254.32 L165.4 254.34 L165.6 254.37 L165.8 254.39 L166 254.41 L166.2 254.44 L166.4 254.46 L166.6 254.49 L166.8 254.51 L167 254.53 L167.2 254.56 L167.4 254.58 L167.6 254.6 L167.8 254.63 L168 254.65 L168.2 254.67 L168.4 254.69 L168.6 254.72 L168.8 254.74 L169 254.76 L169.2 254.78 L169.4 254.8 L169.6 254.82 L169.8 254.84 L170 254.85 L170.2 254.87 L170.4 254.89 L170.6 254.9 L170.8 254.92 L171 254.93 L171.2 254.95 L171.4 254.96 L171.6 254.97 L171.8 254.97 L172 254.98 L172.2 254.98 L172.4 254.97 L172.6 254.96 L172.8 254.94 L173 254.91 L173.2 254.86 L173.4 254.79 L173.6 254.7 L173.8 254.56 L174 254.37 L174.2 254.12 L174.4 253.78 L174.6 253.35 L174.8 252.8 L175 252.13 L175.2 251.32 L175.4 250.38 L175.6 249.32 L175.8 248.14 L176 246.86 L176.2 245.5 L176.4 244.08 L176.6 242.61 L176.8 241.1 L177 239.56 L177.2 238 L177.4 236.43 L177.6 234.84 L177.8 233.25 L177.9 232.45 L178 231.65 L178.2 230.04 L178.4 228.44 L178.5 227.63 L178.6 226.83 L178.8 225.22 L179 223.61 L179.1 222.8 L179.2 223.55 L179.4 225.31 L179.6 227.2 L179.8 229.18 L180 231.21 L180.2 233.28 L180.4 235.4 L180.6 237.54 L180.8 239.72 L181 241.92 L181.2 244.15 L181.4 246.4 L181.6 248.66 L181.8 250.95 L182 253.25 L182.2 255.57 L182.4 257.9 L182.6 257.63 L182.8 257.4 L183 257.21 L183.2 257.06 L183.4 256.92 L183.6 256.81 L183.8 256.71 L184 256.63 L184.2 256.55 L184.4 256.49 L184.6 256.43 L184.8 256.37 L185 256.32 L185.2 256.27 L185.4 256.22 L185.6 256.17 L185.8 256.12 L186 256.07 L186.2 256.03 L186.4 255.98 L186.6 255.93 L186.8 255.88 L187 255.83 L187.2 255.78 L187.4 255.73 L187.6 255.68 L187.8 255.63 L188 255.58 L188.2 255.52 L188.4 255.47 L188.6 255.41 L188.8 255.36 L189 255.3 L189.2 255.25 L189.4 255.19 L189.6 255.13 L189.8 255.08 L190 255.02 L190.2 254.96 L190.4 254.91 L190.6 254.85 L190.8 254.79 L191 254.74 L191.2 254.68 L191.4 254.63 L191.6 254.58 L191.8 254.52 L192 254.47 L192.2 254.42 L192.4 254.37 L192.6 254.32 L192.8 254.28 L193 254.23 L193.2 254.19 L193.4 254.14 L193.6 254.1 L193.8 254.06 L194 254.03 L194.2 253.99 L194.4 253.96 L194.6 253.92 L194.8 253.89 L195 253.87 L195.2 253.84 L195.4 253.82 L195.6 253.79 L195.8 253.77 L196 253.76 L196.2 253.74 L196.4 253.73 L196.6 253.72 L196.8 253.71 L197 253.7 L197.2 253.7 L197.4 253.7 L197.6 253.7 L197.8 253.7 L198 253.71 L198.2 253.71 L198.4 253.71 L198.6 253.72 L198.8 253.73 L199 253.74 L199.2 253.75 L199.4 253.76 L199.6 253.77 L199.8 253.78 L200 253.79 L200.2 253.81 L200.4 253.82 L200.6 253.84 L200.8 253.86 L201 253.88 L201.2 253.9 L201.4 253.92 L201.6 253.94 L201.8 253.96 L202 253.98 L202.2 254.01 L202.4 254.03 L202.6 254.06 L202.8 254.08 L203 254.11 L203.2 254.13 L203.4 254.16 L203.6 254.19 L203.8 254.22 L204 254.25 L204.2 254.28 L204.4 254.31 L204.6 254.34 L204.8 254.37 L205 254.4 L205.2 254.43 L205.4 254.47 L205.6 254.5 L205.8 254.53 L206 254.56 L206.2 254.59 L206.4 254.63 L206.6 254.66 L206.8 254.69 L207 254.72 L207.2 254.76 L207.4 254.79 L207.6 254.82 L207.8 254.85 L208 254.89 L208.2 254.92 L208.4 254.95 L208.6 254.98 L208.8 255.01 L209 255.04 L209.2 255.07 L209.4 255.1 L209.6 255.13 L209.8 255.15 L210 255.18 L210.2 255.21 L210.4 255.23 L210.6 255.26 L210.8 255.28 L211 255.31 L211.2 255.33 L211.4 255.35 L211.6 255.37 L211.8 255.39 L212 255.4 L212.2 255.42 L212.4 255.43 L212.6 255.43 L212.8 255.43 L213 255.43 L213.2 255.42 L213.4 255.39 L213.6 255.35 L213.8 255.29 L214 255.2 L214.2 255.07 L214.4 254.89 L214.6 254.64 L214.8 254.31 L215 253.88 L215.2 253.31 L215.4 252.6 L215.6 251.72 L215.8 250.66 L216 249.44 L216.2 248.04 L216.4 246.5 L216.6 244.83 L216.8 243.06 L217 241.2 L217.2 239.28 L217.4 237.31 L217.6 235.3 L217.8 233.26 L218 231.2 L218.2 229.13 L218.4 227.05 L218.5 226.01 L218.6 224.96 L218.8 222.87 L219 220.77 L219.1 219.71 L219.2 218.66 L219.4 216.56 L219.6 214.45 L219.7 213.4 L219.8 214.39 L220 216.73 L220.2 219.24 L220.4 221.86 L220.6 224.55 L220.8 227.3 L221 230.11 L221.2 232.95 L221.4 235.84 L221.6 238.76 L221.8 241.71 L222 244.69 L222.2 247.7 L222.4 250.73 L222.6 253.78 L222.8 256.86 L222.9 258.4 L223 258.26 L223.2 258.01 L223.4 257.8 L223.6 257.63 L223.8 257.49 L224 257.36 L224.2 257.26 L224.4 257.17 L224.6 257.09 L224.8 257.02 L225 256.95 L225.2 256.89 L225.4 256.84 L225.6 256.79 L225.8 256.74 L226 256.69 L226.2 256.64 L226.4 256.59 L226.6 256.54 L226.8 256.5 L227 256.45 L227.2 256.4 L227.4 256.35 L227.6 256.3 L227.8 256.25 L228 256.2 L228.2 256.14 L228.4 256.09 L228.6 256.04 L228.8 255.98 L229 255.93 L229.2 255.87 L229.4 255.81 L229.6 255.76 L229.8 255.7 L230 255.64 L230.2 255.59 L230.4 255.53 L230.6 255.47 L230.8 255.42 L231 255.36 L231.2 255.3 L231.4 255.25 L231.6 255.19 L231.8 255.14 L232 255.08 L232.2 255.03 L232.4 254.98 L232.6 254.93 L232.8 254.87 L233 254.83 L233.2 254.78 L233.4 254.73 L233.6 254.69 L233.8 254.64 L234 254.6 L234.2 254.56 L234.4 254.53 L234.6 254.49 L234.8 254.45 L235 254.42 L235.2 254.39 L235.4 254.36 L235.6 254.34 L235.8 254.31 L236 254.29 L236.2 254.27 L236.4 254.25 L236.6 254.24 L236.8 254.23 L237 254.22 L237.2 254.21 L237.4 254.2 L237.6 254.2 L237.8 254.2 L238 254.2 L238.2 254.2 L238.4 254.21 L238.6 254.21 L238.8 254.22 L239 254.22 L239.2 254.23 L239.4 254.24 L239.6 254.25 L239.8 254.26 L240 254.27 L240.2 254.28 L240.4 254.3 L240.6 254.31 L240.8 254.33 L241 254.35 L241.2 254.36 L241.4 254.38 L241.6 254.4 L241.8 254.42 L242 254.45 L242.2 254.47 L242.4 254.49 L242.6 254.52 L242.8 254.54 L243 254.57 L243.2 254.59 L243.4 254.62 L243.6 254.65 L243.8 254.67 L244 254.7 L244.2 254.73 L244.4 254.76 L244.6 254.79 L244.8 254.82 L245 254.85 L245.2 254.89 L245.4 254.92 L245.6 254.95 L245.8 254.98 L246 255.01 L246.2 255.05 L246.4 255.08 L246.6 255.11 L246.8 255.15 L247 255.18 L247.2 255.21 L247.4 255.24 L247.6 255.28 L247.8 255.31 L248 255.34 L248.2 255.37 L248.4 255.41 L248.6 255.44 L248.8 255.47 L249 255.5 L249.2 255.53 L249.4 255.56 L249.6 255.59 L249.8 255.62 L250 255.65 L250.2 255.67 L250.4 255.7 L250.6 255.73 L250.8 255.75 L251 255.78 L251.2 255.8 L251.4 255.82 L251.6 255.84 L251.8 255.86 L252 255.88 L252.2 255.9 L252.4 255.91 L252.6 255.92 L252.8 255.92 L253 255.92 L253.2 255.91 L253.4 255.89 L253.6 255.86 L253.8 255.81 L254 255.73 L254.2 255.62 L254.4 255.46 L254.6 255.25 L254.8 254.95 L255 254.55 L255.2 254.02 L255.4 253.34 L255.6 252.47 L255.8 251.41 L256 250.13 L256.2 248.65 L256.4 246.97 L256.6 245.1 L256.8 243.09 L257 240.94 L257.2 238.7 L257.4 236.38 L257.6 233.99 L257.8 231.56 L258 229.1 L258.2 226.62 L258.4 224.11 L258.6 221.6 L258.7 220.34 L258.8 219.07 L259 216.54 L259.2 214 L259.3 212.73 L259.4 211.46 L259.6 208.92 L259.8 206.37 L259.9 205.1 L260 206.42 L260.2 209.54 L260.4 212.88 L260.6 216.37 L260.8 219.95 L261 223.62 L261.2 227.36 L261.4 231.15 L261.6 235 L261.8 238.89 L262 242.82 L262.2 246.79 L262.4 250.8 L262.6 254.83 L262.8 258.9 L263 258.63 L263.2 258.4 L263.4 258.21 L263.6 258.06 L263.8 257.92 L264 257.81 L264.2 257.71 L264.4 257.63 L264.6 257.55 L264.8 257.49 L265 257.43 L265.2 257.37 L265.4 257.32 L265.6 257.27 L265.8 257.22 L266 257.17 L266.2 257.12 L266.4 257.08 L266.6 257.03 L266.8 256.98 L267 256.93 L267.2 256.89 L267.4 256.84 L267.6 256.79 L267.8 256.74 L268 256.69 L268.2 256.63 L268.4 256.58 L268.6 256.53 L268.8 256.47 L269 256.42 L269.2 256.36 L269.4 256.31 L269.6 256.25 L269.8 256.2 L270 256.14 L270.2 256.08 L270.4 256.03 L270.6 255.97 L270.8 255.91 L271 255.86 L271.2 255.8 L271.4 255.75 L271.6 255.69 L271.8 255.64 L272 255.58 L272.2 255.53 L272.4 255.48 L272.6 255.43 L272.8 255.38 L273 255.33 L273.2 255.28 L273.4 255.24 L273.6 255.19 L273.8 255.15 L274 255.11 L274.2 255.07 L274.4 255.03 L274.6 255 L274.8 254.96 L275 254.93 L275.2 254.9 L275.4 254.87 L275.6 254.84 L275.8 254.82 L276 254.8 L276.2 254.78 L276.4 254.76 L276.6 254.74 L276.8 254.73 L277 254.72 L277.2 254.71 L277.4 254.71 L277.6 254.7 L277.8 254.7 L278 254.7 L278.2 254.7 L278.4 254.7 L278.6 254.71 L278.8 254.71 L279 254.72 L279.2 254.73 L279.4 254.73 L279.6 254.74 L279.8 254.75 L280 254.76 L280.2 254.78 L280.4 254.79 L280.6 254.8 L280.8 254.82 L281 254.84 L281.2 254.85 L281.4 254.87 L281.6 254.89 L281.8 254.91 L282 254.93 L282.2 254.95 L282.4 254.98 L282.6 255 L282.8 255.02 L283 255.05 L283.2 255.07 L283.4 255.1 L283.6 255.13 L283.8 255.15 L284 255.18 L284.2 255.21 L284.4 255.24 L284.6 255.27 L284.8 255.3 L285 255.33 L285.2 255.36 L285.4 255.39 L285.6 255.42 L285.8 255.45 L286 255.49 L286.2 255.52 L286.4 255.55 L286.6 255.58 L286.8 255.62 L287 255.65 L287.2 255.68 L287.4 255.71 L287.6 255.74 L287.8 255.78 L288 255.81 L288.2 255.84 L288.4 255.87 L288.6 255.9 L288.8 255.94 L289 255.97 L289.2 256 L289.4 256.03 L289.6 256.06 L289.8 256.09 L290 256.11 L290.2 256.14 L290.4 256.17 L290.6 256.2 L290.8 256.22 L291 256.25 L291.2 256.27 L291.4 256.29 L291.6 256.32 L291.8 256.34 L292 256.36 L292.2 256.38 L292.4 256.39 L292.6 256.41 L292.8 256.42 L293 256.43 L293.2 256.43 L293.4 256.42 L293.6 256.41 L293.8 256.39 L294 256.35 L294.2 256.28 L294.4 256.19 L294.6 256.06 L294.8 255.88 L295 255.63 L295.2 255.29 L295.4 254.84 L295.6 254.26 L295.8 253.5 L296 252.56 L296.2 251.42 L296.4 250.08 L296.6 248.53 L296.8 246.79 L297 244.89 L297.2 242.86 L297.4 240.71 L297.6 238.48 L297.8 236.18 L298 233.83 L298.2 231.44 L298.4 229.03 L298.6 226.59 L298.7 225.37 L298.8 224.14 L299 221.68 L299.2 219.21 L299.3 217.97 L299.4 216.73 L299.6 214.25 L299.8 211.77 L299.9 210.53 L300 209.29 L300.2 206.8 L300.4 209.13 L300.6 211.8 L300.8 214.6 L301 217.51 L301.2 220.49 L301.4 223.53 L301.6 226.62 L301.8 229.76 L302 232.93 L302.2 236.14 L302.4 239.39 L302.6 242.66 L302.8 245.96 L303 249.28 L303.2 252.63 L303.4 256.01 L303.6 259.4 L303.8 259.13 L304 258.9 L304.2 258.71 L304.4 258.55 L304.6 258.42 L304.8 258.31 L305 258.21 L305.2 258.13 L305.4 258.05 L305.6 257.98 L305.8 257.92 L306 257.87 L306.2 257.81 L306.4 257.76 L306.6 257.71 L306.8 257.66 L307 257.62 L307.2 257.57 L307.4 257.52 L307.6 257.47 L307.8 257.42 L308 257.37 L308.2 257.32 L308.4 257.27 L308.6 257.22 L308.8 257.17 L309 257.12 L309.2 257.06 L309.4 257.01 L309.6 256.95 L309.8 256.9 L310 256.84 L310.2 256.79 L310.4 256.73 L310.6 256.67 L310.8 256.62 L311 256.56 L311.2 256.5 L311.4 256.44 L311.6 256.39 L311.8 256.33 L312 256.27 L312.2 256.22 L312.4 256.16 L312.6 256.11 L312.8 256.05 L313 256 L313.2 255.95 L313.4 255.9 L313.6 255.85 L313.8 255.8 L314 255.76 L314.2 255.71 L314.4 255.67 L314.6 255.62 L314.8 255.58 L315 255.54 L315.2 255.51 L315.4 255.47 L315.6 255.44 L315.8 255.41 L316 255.38 L316.2 255.35 L316.4 255.32 L316.6 255.3 L316.8 255.28 L317 255.26 L317.2 255.25 L317.4 255.23 L317.6 255.22 L317.8 255.21 L318 255.21 L318.2 255.2 L318.4 255.2 L318.6 255.2 L318.8 255.2 L319 255.2 L319.2 255.21 L319.4 255.21 L319.6 255.21 L319.8 255.22 L320 255.23 L320.2 255.23 L320.4 255.24 L320.6 255.25 L320.8 255.26 L321 255.27 L321.2 255.28 L321.4 255.29 L321.6 255.3 L321.8 255.31 L322 255.33 L322.2 255.34 L322.4 255.36 L322.6 255.37 L322.8 255.39 L323 255.41 L323.2 255.42 L323.4 255.44 L323.6 255.46 L323.8 255.48 L324 255.5 L324.2 255.52 L324.4 255.54 L324.6 255.56 L324.8 255.58 L325 255.6 L325.2 255.63 L325.4 255.65 L325.6 255.67 L325.8 255.69 L326 255.72 L326.2 255.74 L326.4 255.76 L326.6 255.79 L326.8 255.81 L327 255.84 L327.2 255.86 L327.4 255.88 L327.6 255.91 L327.8 255.93 L328 255.96 L328.2 255.98 L328.4 256.01 L328.6 256.03 L328.8 256.05 L329 256.08 L329.2 256.1 L329.4 256.12 L329.6 256.15 L329.8 256.17 L330 256.19 L330.2 256.21 L330.4 256.23 L330.6 256.25 L330.8 256.28 L331 256.3 L331.2 256.31 L331.4 256.33 L331.6 256.35 L331.8 256.37 L332 256.39 L332.2 256.4 L332.4 256.42 L332.6 256.43 L332.8 256.44 L333 256.45 L333.2 256.46 L333.4 256.46 L333.6 256.45 L333.8 256.45 L334 256.43 L334.2 256.4 L334.4 256.35 L334.6 256.28 L334.8 256.18 L335 256.05 L335.2 255.85 L335.4 255.59 L335.6 255.23 L335.8 254.75 L336 254.13 L336.2 253.34 L336.4 252.35 L336.6 251.15 L336.8 249.73 L337 248.1 L337.2 246.28 L337.4 244.28 L337.6 242.14 L337.8 239.89 L338 237.54 L338.2 235.12 L338.4 232.64 L338.6 230.13 L338.8 227.59 L339 225.02 L339.1 223.74 L339.2 222.44 L339.4 219.85 L339.6 217.25 L339.7 215.95 L339.8 214.65 L340 212.04 L340.2 209.43 L340.3 208.12 L340.4 206.82 L340.6 204.2 L340.8 206.81 L341 209.8 L341.2 212.95 L341.4 216.21 L341.6 219.56 L341.8 222.97 L342 226.43 L342.2 229.95 L342.4 233.51 L342.5 235.36" stroke="#f09a7a" stroke-width="1.9" fill="none" stroke-linejoin="round" stroke-linecap="round" clip-path="url(#cp2)"/>
<path d="M18.4 87.36v-3.2M18.4 19.36v3.2M50.81 87.36v-3.2M50.81 19.36v3.2M83.22 87.36v-3.2M83.22 19.36v3.2M115.63 87.36v-3.2M115.63 19.36v3.2M148.04 87.36v-3.2M148.04 19.36v3.2M180.45 87.36v-3.2M180.45 19.36v3.2M212.86 87.36v-3.2M212.86 19.36v3.2M245.27 87.36v-3.2M245.27 19.36v3.2M277.68 87.36v-3.2M277.68 19.36v3.2M310.09 87.36v-3.2M310.09 19.36v3.2M342.5 87.36v-3.2M342.5 19.36v3.2M24.88 87.36v-2M24.88 19.36v2M31.36 87.36v-2M31.36 19.36v2M37.85 87.36v-2M37.85 19.36v2M44.33 87.36v-2M44.33 19.36v2M57.29 87.36v-2M57.29 19.36v2M63.77 87.36v-2M63.77 19.36v2M70.26 87.36v-2M70.26 19.36v2M76.74 87.36v-2M76.74 19.36v2M89.7 87.36v-2M89.7 19.36v2M96.18 87.36v-2M96.18 19.36v2M102.67 87.36v-2M102.67 19.36v2M109.15 87.36v-2M109.15 19.36v2M122.11 87.36v-2M122.11 19.36v2M128.59 87.36v-2M128.59 19.36v2M135.08 87.36v-2M135.08 19.36v2M141.56 87.36v-2M141.56 19.36v2M154.52 87.36v-2M154.52 19.36v2M161 87.36v-2M161 19.36v2M167.49 87.36v-2M167.49 19.36v2M173.97 87.36v-2M173.97 19.36v2M186.93 87.36v-2M186.93 19.36v2M193.41 87.36v-2M193.41 19.36v2M199.9 87.36v-2M199.9 19.36v2M206.38 87.36v-2M206.38 19.36v2M219.34 87.36v-2M219.34 19.36v2M225.82 87.36v-2M225.82 19.36v2M232.31 87.36v-2M232.31 19.36v2M238.79 87.36v-2M238.79 19.36v2M251.75 87.36v-2M251.75 19.36v2M258.23 87.36v-2M258.23 19.36v2M264.72 87.36v-2M264.72 19.36v2M271.2 87.36v-2M271.2 19.36v2M284.16 87.36v-2M284.16 19.36v2M290.64 87.36v-2M290.64 19.36v2M297.13 87.36v-2M297.13 19.36v2M303.61 87.36v-2M303.61 19.36v2M316.57 87.36v-2M316.57 19.36v2M323.05 87.36v-2M323.05 19.36v2M329.54 87.36v-2M329.54 19.36v2M336.02 87.36v-2M336.02 19.36v2M18.4 76.03h3.2M342.5 76.03h-3.2M18.4 57.14h3.2M342.5 57.14h-3.2M18.4 38.25h3.2M342.5 38.25h-3.2M18.4 19.36h3.2M342.5 19.36h-3.2M18.4 87.36h2M342.5 87.36h-2M18.4 83.58h2M342.5 83.58h-2M18.4 79.8h2M342.5 79.8h-2M18.4 72.25h2M342.5 72.25h-2M18.4 68.47h2M342.5 68.47h-2M18.4 64.69h2M342.5 64.69h-2M18.4 60.92h2M342.5 60.92h-2M18.4 53.36h2M342.5 53.36h-2M18.4 49.58h2M342.5 49.58h-2M18.4 45.8h2M342.5 45.8h-2M18.4 42.03h2M342.5 42.03h-2M18.4 34.47h2M342.5 34.47h-2M18.4 30.69h2M342.5 30.69h-2M18.4 26.92h2M342.5 26.92h-2M18.4 23.14h2M342.5 23.14h-2" stroke="#262626" stroke-width="0.75" fill="none"/>
<rect x="18.4" y="19.36" width="324.1" height="68" stroke="#262626" stroke-width="0.75" fill="none"/>
<text x="18.4" y="94.66" font-size="6.5" text-anchor="middle" >355</text>
<text x="50.81" y="94.66" font-size="6.5" text-anchor="middle" >356</text>
<text x="83.22" y="94.66" font-size="6.5" text-anchor="middle" >357</text>
<text x="115.63" y="94.66" font-size="6.5" text-anchor="middle" >358</text>
<text x="148.04" y="94.66" font-size="6.5" text-anchor="middle" >359</text>
<text x="180.45" y="94.66" font-size="6.5" text-anchor="middle" >360</text>
<text x="212.86" y="94.66" font-size="6.5" text-anchor="middle" >361</text>
<text x="245.27" y="94.66" font-size="6.5" text-anchor="middle" >362</text>
<text x="277.68" y="94.66" font-size="6.5" text-anchor="middle" >363</text>
<text x="310.09" y="94.66" font-size="6.5" text-anchor="middle" >364</text>
<text x="342.5" y="94.66" font-size="6.5" text-anchor="middle" >365</text>
<text x="16.6" y="79.03" font-size="6.5" text-anchor="end" >0</text>
<text x="16.6" y="60.14" font-size="6.5" text-anchor="end" >50</text>
<text x="16.6" y="41.25" font-size="6.5" text-anchor="end" >100</text>
<text x="16.6" y="22.36" font-size="6.5" text-anchor="end" >150</text>
<text x="180.45" y="101.96" font-size="6.5" text-anchor="middle" >Time (s)</text>
<text transform="translate(4.4 53.36) rotate(-90)" font-size="6.5" text-anchor="middle">T01 (<tspan font-style="italic">&#956;&#949;</tspan>)</text>
<path d="M18.4 175.36v-3.2M18.4 107.36v3.2M50.81 175.36v-3.2M50.81 107.36v3.2M83.22 175.36v-3.2M83.22 107.36v3.2M115.63 175.36v-3.2M115.63 107.36v3.2M148.04 175.36v-3.2M148.04 107.36v3.2M180.45 175.36v-3.2M180.45 107.36v3.2M212.86 175.36v-3.2M212.86 107.36v3.2M245.27 175.36v-3.2M245.27 107.36v3.2M277.68 175.36v-3.2M277.68 107.36v3.2M310.09 175.36v-3.2M310.09 107.36v3.2M342.5 175.36v-3.2M342.5 107.36v3.2M24.88 175.36v-2M24.88 107.36v2M31.36 175.36v-2M31.36 107.36v2M37.85 175.36v-2M37.85 107.36v2M44.33 175.36v-2M44.33 107.36v2M57.29 175.36v-2M57.29 107.36v2M63.77 175.36v-2M63.77 107.36v2M70.26 175.36v-2M70.26 107.36v2M76.74 175.36v-2M76.74 107.36v2M89.7 175.36v-2M89.7 107.36v2M96.18 175.36v-2M96.18 107.36v2M102.67 175.36v-2M102.67 107.36v2M109.15 175.36v-2M109.15 107.36v2M122.11 175.36v-2M122.11 107.36v2M128.59 175.36v-2M128.59 107.36v2M135.08 175.36v-2M135.08 107.36v2M141.56 175.36v-2M141.56 107.36v2M154.52 175.36v-2M154.52 107.36v2M161 175.36v-2M161 107.36v2M167.49 175.36v-2M167.49 107.36v2M173.97 175.36v-2M173.97 107.36v2M186.93 175.36v-2M186.93 107.36v2M193.41 175.36v-2M193.41 107.36v2M199.9 175.36v-2M199.9 107.36v2M206.38 175.36v-2M206.38 107.36v2M219.34 175.36v-2M219.34 107.36v2M225.82 175.36v-2M225.82 107.36v2M232.31 175.36v-2M232.31 107.36v2M238.79 175.36v-2M238.79 107.36v2M251.75 175.36v-2M251.75 107.36v2M258.23 175.36v-2M258.23 107.36v2M264.72 175.36v-2M264.72 107.36v2M271.2 175.36v-2M271.2 107.36v2M284.16 175.36v-2M284.16 107.36v2M290.64 175.36v-2M290.64 107.36v2M297.13 175.36v-2M297.13 107.36v2M303.61 175.36v-2M303.61 107.36v2M316.57 175.36v-2M316.57 107.36v2M323.05 175.36v-2M323.05 107.36v2M329.54 175.36v-2M329.54 107.36v2M336.02 175.36v-2M336.02 107.36v2M18.4 164.03h3.2M342.5 164.03h-3.2M18.4 145.14h3.2M342.5 145.14h-3.2M18.4 126.25h3.2M342.5 126.25h-3.2M18.4 107.36h3.2M342.5 107.36h-3.2M18.4 175.36h2M342.5 175.36h-2M18.4 171.58h2M342.5 171.58h-2M18.4 167.8h2M342.5 167.8h-2M18.4 160.25h2M342.5 160.25h-2M18.4 156.47h2M342.5 156.47h-2M18.4 152.69h2M342.5 152.69h-2M18.4 148.92h2M342.5 148.92h-2M18.4 141.36h2M342.5 141.36h-2M18.4 137.58h2M342.5 137.58h-2M18.4 133.8h2M342.5 133.8h-2M18.4 130.03h2M342.5 130.03h-2M18.4 122.47h2M342.5 122.47h-2M18.4 118.69h2M342.5 118.69h-2M18.4 114.92h2M342.5 114.92h-2M18.4 111.14h2M342.5 111.14h-2" stroke="#262626" stroke-width="0.75" fill="none"/>
<rect x="18.4" y="107.36" width="324.1" height="68" stroke="#262626" stroke-width="0.75" fill="none"/>
<text x="18.4" y="182.66" font-size="6.5" text-anchor="middle" >355</text>
<text x="50.81" y="182.66" font-size="6.5" text-anchor="middle" >356</text>
<text x="83.22" y="182.66" font-size="6.5" text-anchor="middle" >357</text>
<text x="115.63" y="182.66" font-size="6.5" text-anchor="middle" >358</text>
<text x="148.04" y="182.66" font-size="6.5" text-anchor="middle" >359</text>
<text x="180.45" y="182.66" font-size="6.5" text-anchor="middle" >360</text>
<text x="212.86" y="182.66" font-size="6.5" text-anchor="middle" >361</text>
<text x="245.27" y="182.66" font-size="6.5" text-anchor="middle" >362</text>
<text x="277.68" y="182.66" font-size="6.5" text-anchor="middle" >363</text>
<text x="310.09" y="182.66" font-size="6.5" text-anchor="middle" >364</text>
<text x="342.5" y="182.66" font-size="6.5" text-anchor="middle" >365</text>
<text x="16.6" y="167.03" font-size="6.5" text-anchor="end" >0</text>
<text x="16.6" y="148.14" font-size="6.5" text-anchor="end" >50</text>
<text x="16.6" y="129.25" font-size="6.5" text-anchor="end" >100</text>
<text x="16.6" y="110.36" font-size="6.5" text-anchor="end" >150</text>
<text x="180.45" y="189.96" font-size="6.5" text-anchor="middle" >Time (s)</text>
<text transform="translate(4.4 141.36) rotate(-90)" font-size="6.5" text-anchor="middle">T03 (<tspan font-style="italic">&#956;&#949;</tspan>)</text>
<path d="M18.4 263.45v-3.2M18.4 195.4v3.2M50.81 263.45v-3.2M50.81 195.4v3.2M83.22 263.45v-3.2M83.22 195.4v3.2M115.63 263.45v-3.2M115.63 195.4v3.2M148.04 263.45v-3.2M148.04 195.4v3.2M180.45 263.45v-3.2M180.45 195.4v3.2M212.86 263.45v-3.2M212.86 195.4v3.2M245.27 263.45v-3.2M245.27 195.4v3.2M277.68 263.45v-3.2M277.68 195.4v3.2M310.09 263.45v-3.2M310.09 195.4v3.2M342.5 263.45v-3.2M342.5 195.4v3.2M24.88 263.45v-2M24.88 195.4v2M31.36 263.45v-2M31.36 195.4v2M37.85 263.45v-2M37.85 195.4v2M44.33 263.45v-2M44.33 195.4v2M57.29 263.45v-2M57.29 195.4v2M63.77 263.45v-2M63.77 195.4v2M70.26 263.45v-2M70.26 195.4v2M76.74 263.45v-2M76.74 195.4v2M89.7 263.45v-2M89.7 195.4v2M96.18 263.45v-2M96.18 195.4v2M102.67 263.45v-2M102.67 195.4v2M109.15 263.45v-2M109.15 195.4v2M122.11 263.45v-2M122.11 195.4v2M128.59 263.45v-2M128.59 195.4v2M135.08 263.45v-2M135.08 195.4v2M141.56 263.45v-2M141.56 195.4v2M154.52 263.45v-2M154.52 195.4v2M161 263.45v-2M161 195.4v2M167.49 263.45v-2M167.49 195.4v2M173.97 263.45v-2M173.97 195.4v2M186.93 263.45v-2M186.93 195.4v2M193.41 263.45v-2M193.41 195.4v2M199.9 263.45v-2M199.9 195.4v2M206.38 263.45v-2M206.38 195.4v2M219.34 263.45v-2M219.34 195.4v2M225.82 263.45v-2M225.82 195.4v2M232.31 263.45v-2M232.31 195.4v2M238.79 263.45v-2M238.79 195.4v2M251.75 263.45v-2M251.75 195.4v2M258.23 263.45v-2M258.23 195.4v2M264.72 263.45v-2M264.72 195.4v2M271.2 263.45v-2M271.2 195.4v2M284.16 263.45v-2M284.16 195.4v2M290.64 263.45v-2M290.64 195.4v2M297.13 263.45v-2M297.13 195.4v2M303.61 263.45v-2M303.61 195.4v2M316.57 263.45v-2M316.57 195.4v2M323.05 263.45v-2M323.05 195.4v2M329.54 263.45v-2M329.54 195.4v2M336.02 263.45v-2M336.02 195.4v2M18.4 252.11h3.2M342.5 252.11h-3.2M18.4 233.21h3.2M342.5 233.21h-3.2M18.4 214.3h3.2M342.5 214.3h-3.2M18.4 195.4h3.2M342.5 195.4h-3.2M18.4 263.45h2M342.5 263.45h-2M18.4 259.67h2M342.5 259.67h-2M18.4 255.89h2M342.5 255.89h-2M18.4 248.33h2M342.5 248.33h-2M18.4 244.55h2M342.5 244.55h-2M18.4 240.77h2M342.5 240.77h-2M18.4 236.99h2M342.5 236.99h-2M18.4 229.43h2M342.5 229.43h-2M18.4 225.64h2M342.5 225.64h-2M18.4 221.86h2M342.5 221.86h-2M18.4 218.08h2M342.5 218.08h-2M18.4 210.52h2M342.5 210.52h-2M18.4 206.74h2M342.5 206.74h-2M18.4 202.96h2M342.5 202.96h-2M18.4 199.18h2M342.5 199.18h-2" stroke="#262626" stroke-width="0.75" fill="none"/>
<rect x="18.4" y="195.4" width="324.1" height="68.05" stroke="#262626" stroke-width="0.75" fill="none"/>
<text x="18.4" y="270.75" font-size="6.5" text-anchor="middle" >355</text>
<text x="50.81" y="270.75" font-size="6.5" text-anchor="middle" >356</text>
<text x="83.22" y="270.75" font-size="6.5" text-anchor="middle" >357</text>
<text x="115.63" y="270.75" font-size="6.5" text-anchor="middle" >358</text>
<text x="148.04" y="270.75" font-size="6.5" text-anchor="middle" >359</text>
<text x="180.45" y="270.75" font-size="6.5" text-anchor="middle" >360</text>
<text x="212.86" y="270.75" font-size="6.5" text-anchor="middle" >361</text>
<text x="245.27" y="270.75" font-size="6.5" text-anchor="middle" >362</text>
<text x="277.68" y="270.75" font-size="6.5" text-anchor="middle" >363</text>
<text x="310.09" y="270.75" font-size="6.5" text-anchor="middle" >364</text>
<text x="342.5" y="270.75" font-size="6.5" text-anchor="middle" >365</text>
<text x="16.6" y="255.11" font-size="6.5" text-anchor="end" >0</text>
<text x="16.6" y="236.21" font-size="6.5" text-anchor="end" >50</text>
<text x="16.6" y="217.3" font-size="6.5" text-anchor="end" >100</text>
<text x="16.6" y="198.4" font-size="6.5" text-anchor="end" >150</text>
<text x="180.45" y="278.05" font-size="6.5" text-anchor="middle" >Time (s)</text>
<text transform="translate(4.4 229.43) rotate(-90)" font-size="6.5" text-anchor="middle">T06 (<tspan font-style="italic">&#956;&#949;</tspan>)</text>
<polygon points="20.3,47.8 16.6,53.8 24,53.8" fill="none" stroke="#1c2c74" stroke-width="1.3" stroke-linejoin="miter"/>
<circle cx="23.8" cy="79.15" r="3.0" fill="none" stroke="#1c2c74" stroke-width="1.3"/>
<polygon points="65.3,46.6 61.6,52.6 69,52.6" fill="none" stroke="#1c2c74" stroke-width="1.3" stroke-linejoin="miter"/>
<circle cx="68.3" cy="79.4" r="3.0" fill="none" stroke="#1c2c74" stroke-width="1.3"/>
<polygon points="109.4,43.7 105.7,49.7 113.1,49.7" fill="none" stroke="#1c2c74" stroke-width="1.3" stroke-linejoin="miter"/>
<circle cx="112.2" cy="80" r="3.0" fill="none" stroke="#1c2c74" stroke-width="1.3"/>
<polygon points="150.9,41.9 147.2,47.9 154.6,47.9" fill="none" stroke="#1c2c74" stroke-width="1.3" stroke-linejoin="miter"/>
<circle cx="154.7" cy="79.8" r="3.0" fill="none" stroke="#1c2c74" stroke-width="1.3"/>
<polygon points="193.4,38.4 189.7,44.4 197.1,44.4" fill="none" stroke="#1c2c74" stroke-width="1.3" stroke-linejoin="miter"/>
<circle cx="196.1" cy="80.8" r="3.0" fill="none" stroke="#1c2c74" stroke-width="1.3"/>
<polygon points="233.6,30.3 229.9,36.3 237.3,36.3" fill="none" stroke="#1c2c74" stroke-width="1.3" stroke-linejoin="miter"/>
<circle cx="236.9" cy="81.3" r="3.0" fill="none" stroke="#1c2c74" stroke-width="1.3"/>
<polygon points="274,24.2 270.3,30.2 277.7,30.2" fill="none" stroke="#1c2c74" stroke-width="1.3" stroke-linejoin="miter"/>
<circle cx="277.05" cy="82" r="3.0" fill="none" stroke="#1c2c74" stroke-width="1.3"/>
<polygon points="314.5,22.4 310.8,28.4 318.2,28.4" fill="none" stroke="#1c2c74" stroke-width="1.3" stroke-linejoin="miter"/>
<circle cx="317.6" cy="82" r="3.0" fill="none" stroke="#1c2c74" stroke-width="1.3"/>
<rect x="50.4" y="73.33" width="6" height="6" fill="none" stroke="#e3252b" stroke-width="1.5"/>
<rect x="179.4" y="73.33" width="6" height="6" fill="none" stroke="#e3252b" stroke-width="1.5"/>
<rect x="300.8" y="73.33" width="6" height="6" fill="none" stroke="#e3252b" stroke-width="1.5"/>
<polygon points="32.5,136.7 28.8,142.7 36.2,142.7" fill="none" stroke="#2e6a52" stroke-width="1.3" stroke-linejoin="miter"/>
<circle cx="36.3" cy="167.7" r="3.0" fill="none" stroke="#2e6a52" stroke-width="1.3"/>
<polygon points="77,134.5 73.3,140.5 80.7,140.5" fill="none" stroke="#2e6a52" stroke-width="1.3" stroke-linejoin="miter"/>
<circle cx="80.7" cy="168" r="3.0" fill="none" stroke="#2e6a52" stroke-width="1.3"/>
<polygon points="120.6,133.2 116.9,139.2 124.3,139.2" fill="none" stroke="#2e6a52" stroke-width="1.3" stroke-linejoin="miter"/>
<circle cx="124.35" cy="168.35" r="3.0" fill="none" stroke="#2e6a52" stroke-width="1.3"/>
<polygon points="163,131.6 159.3,137.6 166.7,137.6" fill="none" stroke="#2e6a52" stroke-width="1.3" stroke-linejoin="miter"/>
<circle cx="166.5" cy="168.35" r="3.0" fill="none" stroke="#2e6a52" stroke-width="1.3"/>
<polygon points="203.8,127.6 200.1,133.6 207.5,133.6" fill="none" stroke="#2e6a52" stroke-width="1.3" stroke-linejoin="miter"/>
<circle cx="207.25" cy="169.6" r="3.0" fill="none" stroke="#2e6a52" stroke-width="1.3"/>
<polygon points="244.3,120.3 240.6,126.3 248,126.3" fill="none" stroke="#2e6a52" stroke-width="1.3" stroke-linejoin="miter"/>
<circle cx="247.75" cy="170.6" r="3.0" fill="none" stroke="#2e6a52" stroke-width="1.3"/>
<polygon points="284.5,116.3 280.8,122.3 288.2,122.3" fill="none" stroke="#2e6a52" stroke-width="1.3" stroke-linejoin="miter"/>
<circle cx="288" cy="171" r="3.0" fill="none" stroke="#2e6a52" stroke-width="1.3"/>
<polygon points="324.7,114.6 321,120.6 328.4,120.6" fill="none" stroke="#2e6a52" stroke-width="1.3" stroke-linejoin="miter"/>
<circle cx="328.5" cy="171" r="3.0" fill="none" stroke="#2e6a52" stroke-width="1.3"/>
<rect x="50.4" y="161.33" width="6" height="6" fill="none" stroke="#e3252b" stroke-width="1.5"/>
<rect x="179.4" y="161.33" width="6" height="6" fill="none" stroke="#e3252b" stroke-width="1.5"/>
<rect x="300.8" y="161.33" width="6" height="6" fill="none" stroke="#e3252b" stroke-width="1.5"/>
<polygon points="49.8,225.4 46.1,231.4 53.5,231.4" fill="none" stroke="#f09a7a" stroke-width="1.3" stroke-linejoin="miter"/>
<circle cx="53.05" cy="258" r="3.0" fill="none" stroke="#f09a7a" stroke-width="1.3"/>
<polygon points="93.9,223.6 90.2,229.6 97.6,229.6" fill="none" stroke="#f09a7a" stroke-width="1.3" stroke-linejoin="miter"/>
<circle cx="97.5" cy="257.5" r="3.0" fill="none" stroke="#f09a7a" stroke-width="1.3"/>
<polygon points="136.8,220.4 133.1,226.4 140.5,226.4" fill="none" stroke="#f09a7a" stroke-width="1.3" stroke-linejoin="miter"/>
<circle cx="140.1" cy="257.8" r="3.0" fill="none" stroke="#f09a7a" stroke-width="1.3"/>
<polygon points="179.1,219.6 175.4,225.6 182.8,225.6" fill="none" stroke="#f09a7a" stroke-width="1.3" stroke-linejoin="miter"/>
<circle cx="182.4" cy="257.9" r="3.0" fill="none" stroke="#f09a7a" stroke-width="1.3"/>
<polygon points="219.7,210.2 216,216.2 223.4,216.2" fill="none" stroke="#f09a7a" stroke-width="1.3" stroke-linejoin="miter"/>
<circle cx="222.9" cy="258.4" r="3.0" fill="none" stroke="#f09a7a" stroke-width="1.3"/>
<polygon points="259.9,201.9 256.2,207.9 263.6,207.9" fill="none" stroke="#f09a7a" stroke-width="1.3" stroke-linejoin="miter"/>
<circle cx="262.8" cy="258.9" r="3.0" fill="none" stroke="#f09a7a" stroke-width="1.3"/>
<polygon points="300.2,203.6 296.5,209.6 303.9,209.6" fill="none" stroke="#f09a7a" stroke-width="1.3" stroke-linejoin="miter"/>
<circle cx="303.6" cy="259.4" r="3.0" fill="none" stroke="#f09a7a" stroke-width="1.3"/>
<polygon points="340.6,201 336.9,207 344.3,207" fill="none" stroke="#f09a7a" stroke-width="1.3" stroke-linejoin="miter"/>
<rect x="50.4" y="249.41" width="6" height="6" fill="none" stroke="#e3252b" stroke-width="1.5"/>
<rect x="179.4" y="249.41" width="6" height="6" fill="none" stroke="#e3252b" stroke-width="1.5"/>
<rect x="300.8" y="249.41" width="6" height="6" fill="none" stroke="#e3252b" stroke-width="1.5"/>
<path d="M379.64 20.36V262.3M385.78 20.36V262.3M391.91 20.36V262.3M398.05 20.36V262.3M404.19 20.36V262.3M410.33 20.36V262.3M416.47 20.36V262.3M422.6 20.36V262.3M428.74 20.36V262.3M434.88 20.36V262.3M441.02 20.36V262.3M447.16 20.36V262.3M453.29 20.36V262.3M459.43 20.36V262.3M465.57 20.36V262.3M471.71 20.36V262.3M477.85 20.36V262.3M483.98 20.36V262.3M490.12 20.36V262.3M496.26 20.36V262.3M502.4 20.36V262.3M508.54 20.36V262.3M514.67 20.36V262.3M520.81 20.36V262.3M526.95 20.36V262.3M533.09 20.36V262.3M539.23 20.36V262.3M545.36 20.36V262.3M551.5 20.36V262.3M557.64 20.36V262.3M563.78 20.36V262.3M569.92 20.36V262.3M576.05 20.36V262.3M582.19 20.36V262.3M588.33 20.36V262.3M594.47 20.36V262.3M600.61 20.36V262.3M606.74 20.36V262.3M612.88 20.36V262.3M619.02 20.36V262.3M625.16 20.36V262.3M631.3 20.36V262.3M637.43 20.36V262.3M643.57 20.36V262.3M649.71 20.36V262.3M655.85 20.36V262.3M661.99 20.36V262.3M668.12 20.36V262.3M674.26 20.36V262.3M373.5 255.18H680.4M373.5 248.07H680.4M373.5 240.95H680.4M373.5 233.84H680.4M373.5 226.72H680.4M373.5 219.6H680.4M373.5 212.49H680.4M373.5 205.37H680.4M373.5 198.26H680.4M373.5 191.14H680.4M373.5 184.03H680.4M373.5 176.91H680.4M373.5 169.79H680.4M373.5 162.68H680.4M373.5 155.56H680.4M373.5 148.45H680.4M373.5 141.33H680.4M373.5 134.21H680.4M373.5 127.1H680.4M373.5 119.98H680.4M373.5 112.87H680.4M373.5 105.75H680.4M373.5 98.63H680.4M373.5 91.52H680.4M373.5 84.4H680.4M373.5 77.29H680.4M373.5 70.17H680.4M373.5 63.06H680.4M373.5 55.94H680.4M373.5 48.82H680.4M373.5 41.71H680.4M373.5 34.59H680.4M373.5 27.48H680.4M373.5 20.36H680.4" stroke="#8a8a8a" stroke-width="0.5" stroke-dasharray="0.7 2.1" fill="none" opacity="0.45"/>
<path d="M373.5 160 L375.7 159.3 L417.9 152.4 L459.5 140.9 L500 134.8 L538.9 117.3 L577.5 83.5 L615.4 58.2 L653.7 50.8 L680.4 50.7" stroke="#1c2c74" stroke-width="1.35" fill="none" stroke-linejoin="round"/>
<path d="M373.5 163.1 L387.1 161.1 L429.3 147.9 L470.6 142.8 L510.7 138.5 L549.3 117.1 L587.5 83.5 L626 69.4 L663.5 61 L680.4 63.1" stroke="#2e6a52" stroke-width="1.35" fill="none" stroke-linejoin="round"/>
<path d="M373.5 156.9 L403.6 155 L445.2 147.7 L486 136.4 L525.7 133.8 L564.5 94.8 L602.5 62.5 L640.4 61.9 L678.3 53.5 L680.4 53.3" stroke="#f09a7a" stroke-width="1.35" fill="none" stroke-linejoin="round"/>
<circle cx="375.7" cy="159.3" r="3.1" fill="none" stroke="#1c2c74" stroke-width="1.2"/>
<circle cx="417.9" cy="152.4" r="3.1" fill="none" stroke="#1c2c74" stroke-width="1.2"/>
<circle cx="459.5" cy="140.9" r="3.1" fill="none" stroke="#1c2c74" stroke-width="1.2"/>
<circle cx="500" cy="134.8" r="3.1" fill="none" stroke="#1c2c74" stroke-width="1.2"/>
<circle cx="538.9" cy="117.3" r="3.1" fill="none" stroke="#1c2c74" stroke-width="1.2"/>
<circle cx="577.5" cy="83.5" r="3.1" fill="none" stroke="#1c2c74" stroke-width="1.2"/>
<circle cx="615.4" cy="58.2" r="3.1" fill="none" stroke="#1c2c74" stroke-width="1.2"/>
<circle cx="653.7" cy="50.8" r="3.1" fill="none" stroke="#1c2c74" stroke-width="1.2"/>
<circle cx="387.1" cy="161.1" r="3.1" fill="none" stroke="#2e6a52" stroke-width="1.2"/>
<circle cx="429.3" cy="147.9" r="3.1" fill="none" stroke="#2e6a52" stroke-width="1.2"/>
<circle cx="470.6" cy="142.8" r="3.1" fill="none" stroke="#2e6a52" stroke-width="1.2"/>
<circle cx="510.7" cy="138.5" r="3.1" fill="none" stroke="#2e6a52" stroke-width="1.2"/>
<circle cx="549.3" cy="117.1" r="3.1" fill="none" stroke="#2e6a52" stroke-width="1.2"/>
<circle cx="587.5" cy="83.5" r="3.1" fill="none" stroke="#2e6a52" stroke-width="1.2"/>
<circle cx="626" cy="69.4" r="3.1" fill="none" stroke="#2e6a52" stroke-width="1.2"/>
<circle cx="663.5" cy="61" r="3.1" fill="none" stroke="#2e6a52" stroke-width="1.2"/>
<circle cx="403.6" cy="155" r="3.1" fill="none" stroke="#f09a7a" stroke-width="1.2"/>
<circle cx="445.2" cy="147.7" r="3.1" fill="none" stroke="#f09a7a" stroke-width="1.2"/>
<circle cx="486" cy="136.4" r="3.1" fill="none" stroke="#f09a7a" stroke-width="1.2"/>
<circle cx="525.7" cy="133.8" r="3.1" fill="none" stroke="#f09a7a" stroke-width="1.2"/>
<circle cx="564.5" cy="94.8" r="3.1" fill="none" stroke="#f09a7a" stroke-width="1.2"/>
<circle cx="602.5" cy="62.5" r="3.1" fill="none" stroke="#f09a7a" stroke-width="1.2"/>
<circle cx="640.4" cy="61.9" r="3.1" fill="none" stroke="#f09a7a" stroke-width="1.2"/>
<circle cx="678.3" cy="53.5" r="3.1" fill="none" stroke="#f09a7a" stroke-width="1.2"/>
<path d="M373.5 262.3v-3.2M373.5 20.36v3.2M404.19 262.3v-3.2M404.19 20.36v3.2M434.88 262.3v-3.2M434.88 20.36v3.2M465.57 262.3v-3.2M465.57 20.36v3.2M496.26 262.3v-3.2M496.26 20.36v3.2M526.95 262.3v-3.2M526.95 20.36v3.2M557.64 262.3v-3.2M557.64 20.36v3.2M588.33 262.3v-3.2M588.33 20.36v3.2M619.02 262.3v-3.2M619.02 20.36v3.2M649.71 262.3v-3.2M649.71 20.36v3.2M680.4 262.3v-3.2M680.4 20.36v3.2M379.64 262.3v-2M379.64 20.36v2M385.78 262.3v-2M385.78 20.36v2M391.91 262.3v-2M391.91 20.36v2M398.05 262.3v-2M398.05 20.36v2M410.33 262.3v-2M410.33 20.36v2M416.47 262.3v-2M416.47 20.36v2M422.6 262.3v-2M422.6 20.36v2M428.74 262.3v-2M428.74 20.36v2M441.02 262.3v-2M441.02 20.36v2M447.16 262.3v-2M447.16 20.36v2M453.29 262.3v-2M453.29 20.36v2M459.43 262.3v-2M459.43 20.36v2M471.71 262.3v-2M471.71 20.36v2M477.85 262.3v-2M477.85 20.36v2M483.98 262.3v-2M483.98 20.36v2M490.12 262.3v-2M490.12 20.36v2M502.4 262.3v-2M502.4 20.36v2M508.54 262.3v-2M508.54 20.36v2M514.67 262.3v-2M514.67 20.36v2M520.81 262.3v-2M520.81 20.36v2M533.09 262.3v-2M533.09 20.36v2M539.23 262.3v-2M539.23 20.36v2M545.36 262.3v-2M545.36 20.36v2M551.5 262.3v-2M551.5 20.36v2M563.78 262.3v-2M563.78 20.36v2M569.92 262.3v-2M569.92 20.36v2M576.05 262.3v-2M576.05 20.36v2M582.19 262.3v-2M582.19 20.36v2M594.47 262.3v-2M594.47 20.36v2M600.61 262.3v-2M600.61 20.36v2M606.74 262.3v-2M606.74 20.36v2M612.88 262.3v-2M612.88 20.36v2M625.16 262.3v-2M625.16 20.36v2M631.3 262.3v-2M631.3 20.36v2M637.43 262.3v-2M637.43 20.36v2M643.57 262.3v-2M643.57 20.36v2M655.85 262.3v-2M655.85 20.36v2M661.99 262.3v-2M661.99 20.36v2M668.12 262.3v-2M668.12 20.36v2M674.26 262.3v-2M674.26 20.36v2M373.5 262.3h3.2M680.4 262.3h-3.2M373.5 233.84h3.2M680.4 233.84h-3.2M373.5 205.37h3.2M680.4 205.37h-3.2M373.5 176.91h3.2M680.4 176.91h-3.2M373.5 148.45h3.2M680.4 148.45h-3.2M373.5 119.98h3.2M680.4 119.98h-3.2M373.5 91.52h3.2M680.4 91.52h-3.2M373.5 63.06h3.2M680.4 63.06h-3.2M373.5 34.59h3.2M680.4 34.59h-3.2M373.5 255.18h2M680.4 255.18h-2M373.5 248.07h2M680.4 248.07h-2M373.5 240.95h2M680.4 240.95h-2M373.5 226.72h2M680.4 226.72h-2M373.5 219.6h2M680.4 219.6h-2M373.5 212.49h2M680.4 212.49h-2M373.5 198.26h2M680.4 198.26h-2M373.5 191.14h2M680.4 191.14h-2M373.5 184.03h2M680.4 184.03h-2M373.5 169.79h2M680.4 169.79h-2M373.5 162.68h2M680.4 162.68h-2M373.5 155.56h2M680.4 155.56h-2M373.5 141.33h2M680.4 141.33h-2M373.5 134.21h2M680.4 134.21h-2M373.5 127.1h2M680.4 127.1h-2M373.5 112.87h2M680.4 112.87h-2M373.5 105.75h2M680.4 105.75h-2M373.5 98.63h2M680.4 98.63h-2M373.5 84.4h2M680.4 84.4h-2M373.5 77.29h2M680.4 77.29h-2M373.5 70.17h2M680.4 70.17h-2M373.5 55.94h2M680.4 55.94h-2M373.5 48.82h2M680.4 48.82h-2M373.5 41.71h2M680.4 41.71h-2M373.5 27.48h2M680.4 27.48h-2M373.5 20.36h2M680.4 20.36h-2" stroke="#262626" stroke-width="0.75" fill="none"/>
<rect x="373.5" y="20.36" width="306.9" height="241.94" stroke="#262626" stroke-width="0.75" fill="none"/>
<text x="373.5" y="270.8" font-size="6.5" text-anchor="middle" >355</text>
<text x="404.19" y="270.8" font-size="6.5" text-anchor="middle" >356</text>
<text x="434.88" y="270.8" font-size="6.5" text-anchor="middle" >357</text>
<text x="465.57" y="270.8" font-size="6.5" text-anchor="middle" >358</text>
<text x="496.26" y="270.8" font-size="6.5" text-anchor="middle" >359</text>
<text x="526.95" y="270.8" font-size="6.5" text-anchor="middle" >360</text>
<text x="557.64" y="270.8" font-size="6.5" text-anchor="middle" >361</text>
<text x="588.33" y="270.8" font-size="6.5" text-anchor="middle" >362</text>
<text x="619.02" y="270.8" font-size="6.5" text-anchor="middle" >363</text>
<text x="649.71" y="270.8" font-size="6.5" text-anchor="middle" >364</text>
<text x="680.4" y="270.8" font-size="6.5" text-anchor="middle" >365</text>
<text x="371.7" y="265.3" font-size="6.5" text-anchor="end" >0</text>
<text x="371.7" y="236.84" font-size="6.5" text-anchor="end" >20</text>
<text x="371.7" y="208.37" font-size="6.5" text-anchor="end" >40</text>
<text x="371.7" y="179.91" font-size="6.5" text-anchor="end" >60</text>
<text x="371.7" y="151.45" font-size="6.5" text-anchor="end" >80</text>
<text x="371.7" y="122.98" font-size="6.5" text-anchor="end" >100</text>
<text x="371.7" y="94.52" font-size="6.5" text-anchor="end" >120</text>
<text x="371.7" y="66.06" font-size="6.5" text-anchor="end" >140</text>
<text x="371.7" y="37.59" font-size="6.5" text-anchor="end" >160</text>
<text x="526.95" y="278.8" font-size="6.5" text-anchor="middle" >Time (s)</text>
<text transform="translate(359.2 140.6) rotate(-90)" font-size="6.5" text-anchor="middle">P2P strain (<tspan font-style="italic">&#956;&#949;</tspan>)</text>
<rect x="629.3" y="127.1" width="43.7" height="28.1" fill="#fff" stroke="#262626" stroke-width="0.6"/>
<path d="M631.9 132.4H656.9" stroke="#1c2c74" stroke-width="1.3"/>
<circle cx="644.3" cy="132.4" r="3.1" fill="none" stroke="#1c2c74" stroke-width="1.2"/>
<text x="659" y="134.6" font-size="6.5" text-anchor="start" >T01</text>
<path d="M631.9 141.2H656.9" stroke="#2e6a52" stroke-width="1.3"/>
<circle cx="644.3" cy="141.2" r="3.1" fill="none" stroke="#2e6a52" stroke-width="1.2"/>
<text x="659" y="143.4" font-size="6.5" text-anchor="start" >T03</text>
<path d="M631.9 149.8H656.9" stroke="#f09a7a" stroke-width="1.3"/>
<circle cx="644.3" cy="149.8" r="3.1" fill="none" stroke="#f09a7a" stroke-width="1.2"/>
<text x="659" y="152" font-size="6.5" text-anchor="start" >T06</text>
</svg></body></html>
